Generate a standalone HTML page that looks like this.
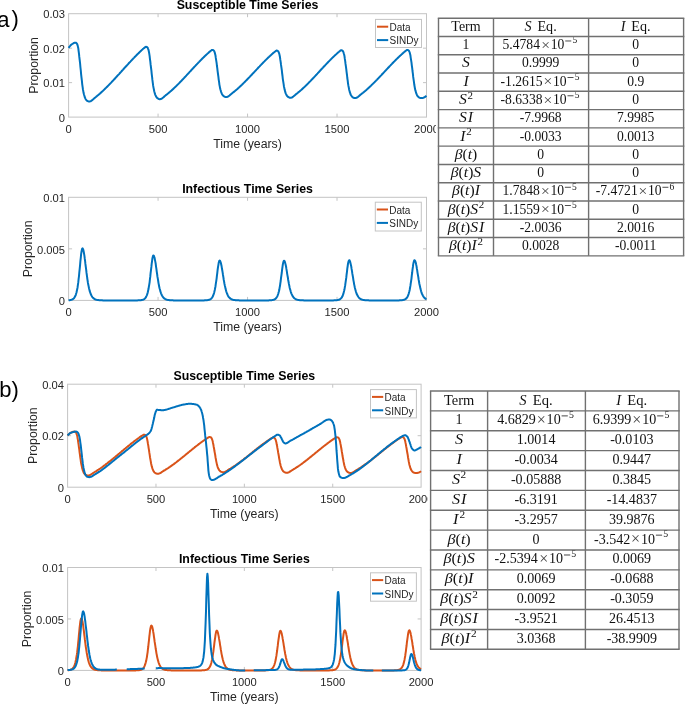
<!DOCTYPE html>
<html><head><meta charset="utf-8"><title>SINDy figure</title>
<style>
html,body{margin:0;padding:0;background:#fff;width:685px;height:705px;overflow:hidden}
svg{position:absolute;left:0;top:0;display:block;filter:blur(0.3px)}
text{font-family:"Liberation Sans",sans-serif;fill:#262626}
.tk{font-size:11.2px}
.lab{font-size:12.3px}
.ttl{font-size:12.35px;font-weight:bold;fill:#000}
.lg{font-size:10px}
.pl{font-size:22px;fill:#000}
.tb{font-family:"Liberation Serif",serif;fill:#111}
.tl{stroke:#707070;stroke-width:1.4}
</style></head><body>
<svg width="685" height="705" viewBox="0 0 685 705">
<rect x="68.60" y="13.70" width="357.90" height="103.40" fill="none" stroke="#c4c4c4" stroke-width="1"/>
<line x1="158.07" y1="117.10" x2="158.07" y2="113.60" stroke="#c4c4c4"/>
<line x1="158.07" y1="13.70" x2="158.07" y2="17.20" stroke="#c4c4c4"/>
<line x1="247.55" y1="117.10" x2="247.55" y2="113.60" stroke="#c4c4c4"/>
<line x1="247.55" y1="13.70" x2="247.55" y2="17.20" stroke="#c4c4c4"/>
<line x1="337.02" y1="117.10" x2="337.02" y2="113.60" stroke="#c4c4c4"/>
<line x1="337.02" y1="13.70" x2="337.02" y2="17.20" stroke="#c4c4c4"/>
<line x1="68.60" y1="82.63" x2="72.10" y2="82.63" stroke="#c4c4c4"/>
<line x1="426.50" y1="82.63" x2="423.00" y2="82.63" stroke="#c4c4c4"/>
<line x1="68.60" y1="48.17" x2="72.10" y2="48.17" stroke="#c4c4c4"/>
<line x1="426.50" y1="48.17" x2="423.00" y2="48.17" stroke="#c4c4c4"/>
<text x="68.60" y="132.70" class="tk" text-anchor="middle">0</text>
<text x="158.07" y="132.70" class="tk" text-anchor="middle">500</text>
<text x="247.55" y="132.70" class="tk" text-anchor="middle">1000</text>
<text x="337.02" y="132.70" class="tk" text-anchor="middle">1500</text>
<text x="426.50" y="132.70" class="tk" text-anchor="middle">2000</text>
<text x="65.00" y="121.80" class="tk" text-anchor="end">0</text>
<text x="65.00" y="87.33" class="tk" text-anchor="end">0.01</text>
<text x="65.00" y="52.87" class="tk" text-anchor="end">0.02</text>
<text x="65.00" y="18.40" class="tk" text-anchor="end">0.03</text>
<text x="247.55" y="9.40" class="ttl" text-anchor="middle">Susceptible Time Series</text>
<text x="247.55" y="147.90" class="lab" text-anchor="middle">Time (years)</text>
<text x="38.30" y="65.40" class="lab" text-anchor="middle" transform="rotate(-90 38.30 65.40)">Proportion</text>
<rect x="68.60" y="197.30" width="357.90" height="103.10" fill="none" stroke="#c4c4c4" stroke-width="1"/>
<line x1="158.07" y1="300.40" x2="158.07" y2="296.90" stroke="#c4c4c4"/>
<line x1="158.07" y1="197.30" x2="158.07" y2="200.80" stroke="#c4c4c4"/>
<line x1="247.55" y1="300.40" x2="247.55" y2="296.90" stroke="#c4c4c4"/>
<line x1="247.55" y1="197.30" x2="247.55" y2="200.80" stroke="#c4c4c4"/>
<line x1="337.02" y1="300.40" x2="337.02" y2="296.90" stroke="#c4c4c4"/>
<line x1="337.02" y1="197.30" x2="337.02" y2="200.80" stroke="#c4c4c4"/>
<line x1="68.60" y1="248.85" x2="72.10" y2="248.85" stroke="#c4c4c4"/>
<line x1="426.50" y1="248.85" x2="423.00" y2="248.85" stroke="#c4c4c4"/>
<text x="68.60" y="316.00" class="tk" text-anchor="middle">0</text>
<text x="158.07" y="316.00" class="tk" text-anchor="middle">500</text>
<text x="247.55" y="316.00" class="tk" text-anchor="middle">1000</text>
<text x="337.02" y="316.00" class="tk" text-anchor="middle">1500</text>
<text x="426.50" y="316.00" class="tk" text-anchor="middle">2000</text>
<text x="65.00" y="305.10" class="tk" text-anchor="end">0</text>
<text x="65.00" y="253.55" class="tk" text-anchor="end">0.005</text>
<text x="65.00" y="202.00" class="tk" text-anchor="end">0.01</text>
<text x="247.55" y="193.00" class="ttl" text-anchor="middle">Infectious Time Series</text>
<text x="247.55" y="331.20" class="lab" text-anchor="middle">Time (years)</text>
<text x="32.00" y="248.85" class="lab" text-anchor="middle" transform="rotate(-90 32.00 248.85)">Proportion</text>
<rect x="67.60" y="384.20" width="353.50" height="103.00" fill="none" stroke="#c4c4c4" stroke-width="1"/>
<line x1="155.97" y1="487.20" x2="155.97" y2="483.70" stroke="#c4c4c4"/>
<line x1="155.97" y1="384.20" x2="155.97" y2="387.70" stroke="#c4c4c4"/>
<line x1="244.35" y1="487.20" x2="244.35" y2="483.70" stroke="#c4c4c4"/>
<line x1="244.35" y1="384.20" x2="244.35" y2="387.70" stroke="#c4c4c4"/>
<line x1="332.73" y1="487.20" x2="332.73" y2="483.70" stroke="#c4c4c4"/>
<line x1="332.73" y1="384.20" x2="332.73" y2="387.70" stroke="#c4c4c4"/>
<line x1="67.60" y1="435.70" x2="71.10" y2="435.70" stroke="#c4c4c4"/>
<line x1="421.10" y1="435.70" x2="417.60" y2="435.70" stroke="#c4c4c4"/>
<text x="67.60" y="502.80" class="tk" text-anchor="middle">0</text>
<text x="155.97" y="502.80" class="tk" text-anchor="middle">500</text>
<text x="244.35" y="502.80" class="tk" text-anchor="middle">1000</text>
<text x="332.73" y="502.80" class="tk" text-anchor="middle">1500</text>
<text x="421.10" y="502.80" class="tk" text-anchor="middle">2000</text>
<text x="64.00" y="491.90" class="tk" text-anchor="end">0</text>
<text x="64.00" y="440.40" class="tk" text-anchor="end">0.02</text>
<text x="64.00" y="388.90" class="tk" text-anchor="end">0.04</text>
<text x="244.35" y="379.90" class="ttl" text-anchor="middle">Susceptible Time Series</text>
<text x="244.35" y="518.00" class="lab" text-anchor="middle">Time (years)</text>
<text x="37.50" y="435.70" class="lab" text-anchor="middle" transform="rotate(-90 37.50 435.70)">Proportion</text>
<rect x="67.60" y="567.50" width="353.50" height="102.90" fill="none" stroke="#c4c4c4" stroke-width="1"/>
<line x1="155.97" y1="670.40" x2="155.97" y2="666.90" stroke="#c4c4c4"/>
<line x1="155.97" y1="567.50" x2="155.97" y2="571.00" stroke="#c4c4c4"/>
<line x1="244.35" y1="670.40" x2="244.35" y2="666.90" stroke="#c4c4c4"/>
<line x1="244.35" y1="567.50" x2="244.35" y2="571.00" stroke="#c4c4c4"/>
<line x1="332.73" y1="670.40" x2="332.73" y2="666.90" stroke="#c4c4c4"/>
<line x1="332.73" y1="567.50" x2="332.73" y2="571.00" stroke="#c4c4c4"/>
<line x1="67.60" y1="618.95" x2="71.10" y2="618.95" stroke="#c4c4c4"/>
<line x1="421.10" y1="618.95" x2="417.60" y2="618.95" stroke="#c4c4c4"/>
<text x="67.60" y="686.00" class="tk" text-anchor="middle">0</text>
<text x="155.97" y="686.00" class="tk" text-anchor="middle">500</text>
<text x="244.35" y="686.00" class="tk" text-anchor="middle">1000</text>
<text x="332.73" y="686.00" class="tk" text-anchor="middle">1500</text>
<text x="421.10" y="686.00" class="tk" text-anchor="middle">2000</text>
<text x="64.00" y="675.10" class="tk" text-anchor="end">0</text>
<text x="64.00" y="623.65" class="tk" text-anchor="end">0.005</text>
<text x="64.00" y="572.20" class="tk" text-anchor="end">0.01</text>
<text x="244.35" y="563.20" class="ttl" text-anchor="middle">Infectious Time Series</text>
<text x="244.35" y="701.20" class="lab" text-anchor="middle">Time (years)</text>
<text x="31.00" y="618.95" class="lab" text-anchor="middle" transform="rotate(-90 31.00 618.95)">Proportion</text>
<g>
<path d="M68.60 47.82L69.0 47.3L69.3 46.9L69.7 46.4L70.0 46.0L70.4 45.6L70.7 45.2L71.1 44.9L71.5 44.5L71.8 44.3L72.2 44.0L72.5 43.8L72.9 43.6L73.3 43.4L73.6 43.2L74.0 43.0L74.3 42.9L74.7 42.7L75.0 42.7L75.4 42.7L75.8 42.7L76.1 42.9L76.5 43.2L76.8 43.5L77.2 44.2L77.6 45.3L77.9 46.6L78.3 48.3L78.6 50.8L79.0 53.8L79.3 56.9L79.7 60.1L80.1 63.5L80.4 67.0L80.8 70.5L81.1 74.1L81.5 77.7L81.9 80.9L82.2 84.1L82.6 86.9L82.9 89.2L83.3 91.3L83.6 93.1L84.0 94.6L84.4 95.8L84.7 97.0L85.1 97.9L85.4 98.7L85.8 99.3L86.2 99.8L86.5 100.3L86.9 100.6L87.2 100.8L87.6 101.0L87.9 101.2L88.3 101.4L88.7 101.5L89.0 101.6L89.4 101.6L89.7 101.5L90.1 101.4L90.5 101.3L90.8 101.1L91.2 100.9L91.5 100.7L91.9 100.4L92.2 100.1L92.6 99.8L93.0 99.5L93.3 99.2L93.7 98.8L94.0 98.5L94.4 98.2L94.8 97.9L95.1 97.6L95.5 97.3L95.8 97.0L96.2 96.7L96.5 96.4L96.9 96.1L97.3 95.8L97.6 95.5L98.0 95.2L98.3 94.9L98.7 94.6L99.1 94.3L99.4 94.0L99.8 93.7L100.1 93.4L100.5 93.1L100.8 92.7L101.2 92.4L101.6 92.1L101.9 91.8L102.3 91.4L102.6 91.1L103.0 90.8L103.4 90.4L103.7 90.1L104.1 89.7L104.4 89.4L104.8 89.0L105.1 88.7L105.5 88.3L105.9 88.0L106.2 87.6L106.6 87.3L106.9 86.9L107.3 86.6L107.7 86.2L108.0 85.8L108.4 85.5L108.7 85.1L109.1 84.7L109.4 84.4L109.8 84.0L110.2 83.6L110.5 83.3L110.9 82.9L111.2 82.5L111.6 82.1L111.9 81.7L112.3 81.4L112.7 81.0L113.0 80.6L113.4 80.2L113.7 79.8L114.1 79.4L114.5 79.1L114.8 78.7L115.2 78.3L115.5 77.9L115.9 77.5L116.2 77.1L116.6 76.7L117.0 76.3L117.3 75.9L117.7 75.5L118.0 75.1L118.4 74.8L118.8 74.4L119.1 74.0L119.5 73.6L119.8 73.2L120.2 72.8L120.5 72.4L120.9 72.0L121.3 71.6L121.6 71.2L122.0 70.8L122.3 70.4L122.7 70.0L123.1 69.6L123.4 69.2L123.8 68.8L124.1 68.4L124.5 68.0L124.8 67.6L125.2 67.2L125.6 66.8L125.9 66.4L126.3 66.1L126.6 65.7L127.0 65.3L127.4 64.9L127.7 64.5L128.1 64.1L128.4 63.7L128.8 63.3L129.1 62.9L129.5 62.5L129.9 62.2L130.2 61.8L130.6 61.4L130.9 61.0L131.3 60.6L131.7 60.2L132.0 59.9L132.4 59.5L132.7 59.1L133.1 58.7L133.4 58.3L133.8 58.0L134.2 57.6L134.5 57.2L134.9 56.9L135.2 56.5L135.6 56.1L136.0 55.8L136.3 55.4L136.7 55.0L137.0 54.7L137.4 54.3L137.7 54.0L138.1 53.6L138.5 53.3L138.8 52.9L139.2 52.6L139.5 52.2L139.9 51.9L140.3 51.5L140.6 51.2L141.0 50.8L141.3 50.5L141.7 50.2L142.0 49.8L142.4 49.5L142.8 49.1L143.1 48.8L143.5 48.5L143.8 48.2L144.2 48.0L144.6 47.7L144.9 47.4L145.3 47.1L145.6 46.9L146.0 46.8L146.3 46.8L146.7 47.0L147.1 47.2L147.4 47.5L147.8 47.9L148.1 48.8L148.5 49.9L148.8 51.3L149.2 53.3L149.6 55.9L149.9 58.6L150.3 61.4L150.6 64.4L151.0 67.5L151.4 70.6L151.7 73.8L152.1 77.0L152.4 79.9L152.8 82.8L153.1 85.4L153.5 87.6L153.9 89.5L154.2 91.2L154.6 92.6L154.9 93.7L155.3 94.8L155.7 95.7L156.0 96.4L156.4 97.0L156.7 97.5L157.1 97.9L157.4 98.2L157.8 98.4L158.2 98.6L158.5 98.8L158.9 99.0L159.2 99.1L159.6 99.2L160.0 99.2L160.3 99.1L160.7 99.1L161.0 98.9L161.4 98.8L161.7 98.6L162.1 98.3L162.5 98.1L162.8 97.8L163.2 97.5L163.5 97.2L163.9 96.9L164.3 96.6L164.6 96.3L165.0 95.9L165.3 95.6L165.7 95.3L166.0 95.0L166.4 94.8L166.8 94.5L167.1 94.2L167.5 93.9L167.8 93.6L168.2 93.3L168.6 93.0L168.9 92.7L169.3 92.4L169.6 92.1L170.0 91.8L170.3 91.5L170.7 91.2L171.1 90.9L171.4 90.6L171.8 90.3L172.1 89.9L172.5 89.6L172.9 89.3L173.2 88.9L173.6 88.6L173.9 88.3L174.3 87.9L174.6 87.6L175.0 87.2L175.4 86.9L175.7 86.6L176.1 86.2L176.4 85.9L176.8 85.5L177.2 85.1L177.5 84.8L177.9 84.4L178.2 84.1L178.6 83.7L178.9 83.3L179.3 83.0L179.7 82.6L180.0 82.2L180.4 81.9L180.7 81.5L181.1 81.1L181.5 80.8L181.8 80.4L182.2 80.0L182.5 79.6L182.9 79.3L183.2 78.9L183.6 78.5L184.0 78.1L184.3 77.7L184.7 77.3L185.0 77.0L185.4 76.6L185.8 76.2L186.1 75.8L186.5 75.4L186.8 75.0L187.2 74.6L187.5 74.3L187.9 73.9L188.3 73.5L188.6 73.1L189.0 72.7L189.3 72.3L189.7 71.9L190.0 71.5L190.4 71.2L190.8 70.8L191.1 70.4L191.5 70.0L191.8 69.6L192.2 69.2L192.6 68.8L192.9 68.4L193.3 68.0L193.6 67.7L194.0 67.3L194.3 66.9L194.7 66.5L195.1 66.1L195.4 65.7L195.8 65.4L196.1 65.0L196.5 64.6L196.9 64.2L197.2 63.8L197.6 63.5L197.9 63.1L198.3 62.7L198.6 62.3L199.0 62.0L199.4 61.6L199.7 61.2L200.1 60.9L200.4 60.5L200.8 60.1L201.2 59.8L201.5 59.4L201.9 59.0L202.2 58.7L202.6 58.3L202.9 58.0L203.3 57.6L203.7 57.3L204.0 56.9L204.4 56.6L204.7 56.2L205.1 55.9L205.5 55.5L205.8 55.2L206.2 54.9L206.5 54.5L206.9 54.2L207.2 53.9L207.6 53.5L208.0 53.2L208.3 52.9L208.7 52.6L209.0 52.2L209.4 51.9L209.8 51.6L210.1 51.4L210.5 51.1L210.8 50.8L211.2 50.5L211.5 50.2L211.9 50.0L212.3 49.9L212.6 49.9L213.0 50.0L213.3 50.2L213.7 50.5L214.1 50.9L214.4 51.6L214.8 52.7L215.1 53.9L215.5 55.6L215.8 57.9L216.2 60.4L216.6 62.9L216.9 65.5L217.3 68.3L217.6 71.1L218.0 74.0L218.4 76.9L218.7 79.6L219.1 82.2L219.4 84.6L219.8 86.6L220.1 88.3L220.5 89.8L220.9 91.1L221.2 92.1L221.6 93.1L221.9 93.9L222.3 94.6L222.7 95.1L223.0 95.5L223.4 95.9L223.7 96.2L224.1 96.4L224.4 96.6L224.8 96.8L225.2 96.9L225.5 97.0L225.9 97.1L226.2 97.1L226.6 97.1L227.0 97.0L227.3 96.9L227.7 96.7L228.0 96.5L228.4 96.3L228.7 96.1L229.1 95.8L229.5 95.5L229.8 95.2L230.2 94.9L230.5 94.6L230.9 94.3L231.2 94.0L231.6 93.6L232.0 93.3L232.3 93.1L232.7 92.8L233.0 92.5L233.4 92.2L233.8 92.0L234.1 91.7L234.5 91.4L234.8 91.1L235.2 90.8L235.5 90.5L235.9 90.2L236.3 89.9L236.6 89.6L237.0 89.3L237.3 89.0L237.7 88.7L238.1 88.3L238.4 88.0L238.8 87.7L239.1 87.4L239.5 87.0L239.8 86.7L240.2 86.4L240.6 86.0L240.9 85.7L241.3 85.4L241.6 85.0L242.0 84.7L242.4 84.3L242.7 84.0L243.1 83.6L243.4 83.3L243.8 82.9L244.1 82.6L244.5 82.2L244.9 81.8L245.2 81.5L245.6 81.1L245.9 80.8L246.3 80.4L246.7 80.0L247.0 79.7L247.4 79.3L247.7 78.9L248.1 78.5L248.4 78.2L248.8 77.8L249.2 77.4L249.5 77.0L249.9 76.7L250.2 76.3L250.6 75.9L251.0 75.5L251.3 75.2L251.7 74.8L252.0 74.4L252.4 74.0L252.7 73.6L253.1 73.2L253.5 72.9L253.8 72.5L254.2 72.1L254.5 71.7L254.9 71.3L255.3 71.0L255.6 70.6L256.0 70.2L256.3 69.8L256.7 69.4L257.0 69.0L257.4 68.7L257.8 68.3L258.1 67.9L258.5 67.5L258.8 67.1L259.2 66.8L259.6 66.4L259.9 66.0L260.3 65.6L260.6 65.3L261.0 64.9L261.3 64.5L261.7 64.1L262.1 63.8L262.4 63.4L262.8 63.0L263.1 62.7L263.5 62.3L263.9 61.9L264.2 61.6L264.6 61.2L264.9 60.8L265.3 60.5L265.6 60.1L266.0 59.8L266.4 59.4L266.7 59.1L267.1 58.7L267.4 58.4L267.8 58.0L268.1 57.7L268.5 57.3L268.9 57.0L269.2 56.7L269.6 56.3L269.9 56.0L270.3 55.7L270.7 55.3L271.0 55.0L271.4 54.7L271.7 54.4L272.1 54.0L272.4 53.7L272.8 53.4L273.2 53.1L273.5 52.8L273.9 52.5L274.2 52.2L274.6 51.9L275.0 51.7L275.3 51.3L275.7 51.1L276.0 50.8L276.4 50.6L276.7 50.6L277.1 50.6L277.5 50.8L277.8 51.0L278.2 51.3L278.5 51.9L278.9 52.7L279.3 53.9L279.6 55.2L280.0 57.3L280.3 59.7L280.7 62.1L281.0 64.7L281.4 67.4L281.8 70.2L282.1 73.0L282.5 76.0L282.8 78.8L283.2 81.4L283.6 83.9L283.9 86.2L284.3 88.0L284.6 89.6L285.0 91.1L285.3 92.2L285.7 93.3L286.1 94.2L286.4 94.9L286.8 95.5L287.1 96.0L287.5 96.4L287.9 96.7L288.2 97.0L288.6 97.2L288.9 97.4L289.3 97.5L289.6 97.7L290.0 97.7L290.4 97.8L290.7 97.8L291.1 97.7L291.4 97.6L291.8 97.5L292.2 97.3L292.5 97.1L292.9 96.9L293.2 96.6L293.6 96.3L293.9 96.0L294.3 95.7L294.7 95.4L295.0 95.1L295.4 94.8L295.7 94.5L296.1 94.1L296.5 93.8L296.8 93.6L297.2 93.3L297.5 93.0L297.9 92.7L298.2 92.4L298.6 92.1L299.0 91.9L299.3 91.6L299.7 91.3L300.0 91.0L300.4 90.6L300.8 90.3L301.1 90.0L301.5 89.7L301.8 89.4L302.2 89.1L302.5 88.7L302.9 88.4L303.3 88.1L303.6 87.8L304.0 87.4L304.3 87.1L304.7 86.7L305.1 86.4L305.4 86.1L305.8 85.7L306.1 85.4L306.5 85.0L306.8 84.7L307.2 84.3L307.6 84.0L307.9 83.6L308.3 83.2L308.6 82.9L309.0 82.5L309.3 82.1L309.7 81.8L310.1 81.4L310.4 81.0L310.8 80.7L311.1 80.3L311.5 79.9L311.9 79.5L312.2 79.2L312.6 78.8L312.9 78.4L313.3 78.0L313.6 77.7L314.0 77.3L314.4 76.9L314.7 76.5L315.1 76.1L315.4 75.7L315.8 75.4L316.2 75.0L316.5 74.6L316.9 74.2L317.2 73.8L317.6 73.4L317.9 73.0L318.3 72.6L318.7 72.3L319.0 71.9L319.4 71.5L319.7 71.1L320.1 70.7L320.5 70.3L320.8 69.9L321.2 69.5L321.5 69.1L321.9 68.8L322.2 68.4L322.6 68.0L323.0 67.6L323.3 67.2L323.7 66.8L324.0 66.4L324.4 66.1L324.8 65.7L325.1 65.3L325.5 64.9L325.8 64.5L326.2 64.2L326.5 63.8L326.9 63.4L327.3 63.0L327.6 62.7L328.0 62.3L328.3 61.9L328.7 61.5L329.1 61.2L329.4 60.8L329.8 60.4L330.1 60.1L330.5 59.7L330.8 59.3L331.2 59.0L331.6 58.6L331.9 58.3L332.3 57.9L332.6 57.6L333.0 57.2L333.4 56.9L333.7 56.5L334.1 56.2L334.4 55.8L334.8 55.5L335.1 55.2L335.5 54.8L335.9 54.5L336.2 54.2L336.6 53.9L336.9 53.5L337.3 53.2L337.7 52.9L338.0 52.6L338.4 52.2L338.7 52.0L339.1 51.7L339.4 51.4L339.8 51.1L340.2 50.8L340.5 50.5L340.9 50.3L341.2 50.2L341.6 50.3L342.0 50.4L342.3 50.6L342.7 50.9L343.0 51.3L343.4 52.1L343.7 53.2L344.1 54.4L344.5 56.3L344.8 58.7L345.2 61.2L345.5 63.7L345.9 66.4L346.3 69.3L346.6 72.1L347.0 75.0L347.3 78.0L347.7 80.7L348.0 83.3L348.4 85.7L348.8 87.6L349.1 89.4L349.5 90.9L349.8 92.2L350.2 93.2L350.5 94.2L350.9 95.0L351.3 95.6L351.6 96.1L352.0 96.6L352.3 97.0L352.7 97.3L353.1 97.5L353.4 97.7L353.8 97.8L354.1 98.0L354.5 98.1L354.8 98.1L355.2 98.1L355.6 98.1L355.9 98.0L356.3 97.9L356.6 97.7L357.0 97.5L357.4 97.3L357.7 97.1L358.1 96.8L358.4 96.5L358.8 96.2L359.1 95.9L359.5 95.6L359.9 95.3L360.2 94.9L360.6 94.6L360.9 94.3L361.3 94.1L361.7 93.8L362.0 93.5L362.4 93.2L362.7 93.0L363.1 92.7L363.4 92.4L363.8 92.1L364.2 91.8L364.5 91.5L364.9 91.2L365.2 90.9L365.6 90.6L366.0 90.3L366.3 90.0L366.7 89.7L367.0 89.3L367.4 89.0L367.7 88.7L368.1 88.4L368.5 88.0L368.8 87.7L369.2 87.4L369.5 87.0L369.9 86.7L370.3 86.4L370.6 86.0L371.0 85.7L371.3 85.3L371.7 85.0L372.0 84.6L372.4 84.3L372.8 83.9L373.1 83.6L373.5 83.2L373.8 82.9L374.2 82.5L374.6 82.2L374.9 81.8L375.3 81.4L375.6 81.1L376.0 80.7L376.3 80.3L376.7 80.0L377.1 79.6L377.4 79.2L377.8 78.9L378.1 78.5L378.5 78.1L378.9 77.7L379.2 77.4L379.6 77.0L379.9 76.6L380.3 76.2L380.6 75.8L381.0 75.5L381.4 75.1L381.7 74.7L382.1 74.3L382.4 73.9L382.8 73.6L383.2 73.2L383.5 72.8L383.9 72.4L384.2 72.0L384.6 71.6L384.9 71.3L385.3 70.9L385.7 70.5L386.0 70.1L386.4 69.7L386.7 69.3L387.1 69.0L387.4 68.6L387.8 68.2L388.2 67.8L388.5 67.4L388.9 67.1L389.2 66.7L389.6 66.3L390.0 65.9L390.3 65.5L390.7 65.2L391.0 64.8L391.4 64.4L391.7 64.0L392.1 63.7L392.5 63.3L392.8 62.9L393.2 62.6L393.5 62.2L393.9 61.8L394.3 61.5L394.6 61.1L395.0 60.7L395.3 60.4L395.7 60.0L396.0 59.7L396.4 59.3L396.8 59.0L397.1 58.6L397.5 58.3L397.8 57.9L398.2 57.6L398.6 57.2L398.9 56.9L399.3 56.5L399.6 56.2L400.0 55.9L400.3 55.5L400.7 55.2L401.1 54.9L401.4 54.5L401.8 54.2L402.1 53.9L402.5 53.6L402.9 53.2L403.2 52.9L403.6 52.6L403.9 52.3L404.3 52.0L404.6 51.7L405.0 51.4L405.4 51.1L405.7 50.9L406.1 50.5L406.4 50.3L406.8 50.0L407.2 49.9L407.5 49.9L407.9 50.0L408.2 50.2L408.6 50.5L408.9 50.8L409.3 51.5L409.7 52.5L410.0 53.7L410.4 55.3L410.7 57.6L411.1 60.1L411.5 62.6L411.8 65.3L412.2 68.2L412.5 71.0L412.9 73.9L413.2 76.9L413.6 79.7L414.0 82.3L414.3 84.8L414.7 87.0L415.0 88.8L415.4 90.4L415.8 91.7L416.1 92.9L416.5 93.9L416.8 94.7L417.2 95.4L417.5 96.0L417.9 96.4L418.3 96.8L418.6 97.2L419.0 97.4L419.3 97.6L419.7 97.8L420.1 97.9L420.4 98.0L420.8 98.1L421.1 98.1L421.5 98.1L421.8 98.1L422.2 98.1L422.6 98.0L422.9 97.9L423.3 97.8L423.6 97.7L424.0 97.5L424.4 97.4L424.7 97.2L425.1 96.9L425.4 96.7L425.8 96.4L426.1 96.1L426.5 95.7" fill="none" stroke="#0072bd" stroke-width="2.00" stroke-linejoin="round"/>
<path d="M68.60 300.27L69.0 300.2L69.3 300.2L69.7 300.2L70.0 300.1L70.4 300.1L70.7 300.0L71.1 299.9L71.5 299.8L71.8 299.7L72.2 299.5L72.5 299.4L72.9 299.1L73.3 298.9L73.6 298.6L74.0 298.2L74.3 297.7L74.7 297.2L75.0 296.5L75.4 295.8L75.8 294.8L76.1 293.7L76.5 292.5L76.8 291.0L77.2 289.2L77.6 287.2L77.9 284.8L78.3 282.2L78.6 279.2L79.0 276.0L79.3 272.5L79.7 268.8L80.1 264.9L80.4 261.2L80.8 257.6L81.1 254.3L81.5 251.7L81.9 249.7L82.2 248.6L82.6 248.4L82.9 248.8L83.3 249.8L83.6 251.3L84.0 253.3L84.4 255.6L84.7 258.2L85.1 261.0L85.4 263.9L85.8 266.9L86.2 269.8L86.5 272.7L86.9 275.5L87.2 278.0L87.6 280.5L87.9 282.7L88.3 284.7L88.7 286.6L89.0 288.2L89.4 289.7L89.7 291.1L90.1 292.2L90.5 293.3L90.8 294.2L91.2 295.0L91.5 295.7L91.9 296.3L92.2 296.9L92.6 297.4L93.0 297.8L93.3 298.1L93.7 298.4L94.0 298.7L94.4 298.9L94.8 299.1L95.1 299.3L95.5 299.5L95.8 299.6L96.2 299.7L96.5 299.8L96.9 299.9L97.3 299.9L97.6 300.0L98.0 300.1L98.3 300.1L98.7 300.1L99.1 300.2L99.4 300.2L99.8 300.2L100.1 300.3L100.5 300.3L100.8 300.3L101.2 300.3L101.6 300.3L101.9 300.3L102.3 300.3L102.6 300.4L103.0 300.4L103.4 300.4L103.7 300.4L104.1 300.4L104.4 300.4L104.8 300.4L105.1 300.4L105.5 300.4L105.9 300.4L106.2 300.4L106.6 300.4L106.9 300.4L107.3 300.4L107.7 300.4L108.0 300.4L108.4 300.4L108.7 300.4L109.1 300.4L109.4 300.4L109.8 300.4L110.2 300.4L110.5 300.4L110.9 300.4L111.2 300.4L111.6 300.4L111.9 300.4L112.3 300.4L112.7 300.4L113.0 300.4L113.4 300.4L113.7 300.4L114.1 300.4L114.5 300.4L114.8 300.4L115.2 300.4L115.5 300.4L115.9 300.4L116.2 300.4L116.6 300.4L117.0 300.4L117.3 300.4L117.7 300.4L118.0 300.4L118.4 300.4L118.8 300.4L119.1 300.4L119.5 300.4L119.8 300.4L120.2 300.4L120.5 300.4L120.9 300.4L121.3 300.4L121.6 300.4L122.0 300.4L122.3 300.4L122.7 300.4L123.1 300.4L123.4 300.4L123.8 300.4L124.1 300.4L124.5 300.4L124.8 300.4L125.2 300.4L125.6 300.4L125.9 300.4L126.3 300.4L126.6 300.4L127.0 300.4L127.4 300.4L127.7 300.4L128.1 300.4L128.4 300.4L128.8 300.4L129.1 300.4L129.5 300.4L129.9 300.4L130.2 300.4L130.6 300.4L130.9 300.4L131.3 300.4L131.7 300.4L132.0 300.4L132.4 300.4L132.7 300.4L133.1 300.4L133.4 300.4L133.8 300.4L134.2 300.4L134.5 300.4L134.9 300.4L135.2 300.4L135.6 300.4L136.0 300.4L136.3 300.4L136.7 300.4L137.0 300.4L137.4 300.4L137.7 300.4L138.1 300.3L138.5 300.3L138.8 300.3L139.2 300.3L139.5 300.3L139.9 300.3L140.3 300.2L140.6 300.2L141.0 300.2L141.3 300.1L141.7 300.1L142.0 300.0L142.4 299.9L142.8 299.8L143.1 299.7L143.5 299.5L143.8 299.3L144.2 299.1L144.6 298.8L144.9 298.5L145.3 298.1L145.6 297.7L146.0 297.1L146.3 296.4L146.7 295.6L147.1 294.7L147.4 293.6L147.8 292.3L148.1 290.8L148.5 289.1L148.8 287.1L149.2 284.8L149.6 282.3L149.9 279.5L150.3 276.4L150.6 273.2L151.0 270.0L151.4 266.7L151.7 263.6L152.1 260.8L152.4 258.4L152.8 256.7L153.1 255.7L153.5 255.5L153.9 255.8L154.2 256.7L154.6 257.9L154.9 259.6L155.3 261.6L155.7 263.8L156.0 266.3L156.4 268.8L156.7 271.3L157.1 273.9L157.4 276.4L157.8 278.7L158.2 281.0L158.5 283.1L158.9 285.0L159.2 286.8L159.6 288.4L160.0 289.8L160.3 291.1L160.7 292.3L161.0 293.3L161.4 294.2L161.7 295.0L162.1 295.7L162.5 296.3L162.8 296.9L163.2 297.3L163.5 297.8L163.9 298.1L164.3 298.4L164.6 298.7L165.0 298.9L165.3 299.1L165.7 299.3L166.0 299.4L166.4 299.6L166.8 299.7L167.1 299.8L167.5 299.9L167.8 299.9L168.2 300.0L168.6 300.1L168.9 300.1L169.3 300.1L169.6 300.2L170.0 300.2L170.3 300.2L170.7 300.3L171.1 300.3L171.4 300.3L171.8 300.3L172.1 300.3L172.5 300.3L172.9 300.3L173.2 300.4L173.6 300.4L173.9 300.4L174.3 300.4L174.6 300.4L175.0 300.4L175.4 300.4L175.7 300.4L176.1 300.4L176.4 300.4L176.8 300.4L177.2 300.4L177.5 300.4L177.9 300.4L178.2 300.4L178.6 300.4L178.9 300.4L179.3 300.4L179.7 300.4L180.0 300.4L180.4 300.4L180.7 300.4L181.1 300.4L181.5 300.4L181.8 300.4L182.2 300.4L182.5 300.4L182.9 300.4L183.2 300.4L183.6 300.4L184.0 300.4L184.3 300.4L184.7 300.4L185.0 300.4L185.4 300.4L185.8 300.4L186.1 300.4L186.5 300.4L186.8 300.4L187.2 300.4L187.5 300.4L187.9 300.4L188.3 300.4L188.6 300.4L189.0 300.4L189.3 300.4L189.7 300.4L190.0 300.4L190.4 300.4L190.8 300.4L191.1 300.4L191.5 300.4L191.8 300.4L192.2 300.4L192.6 300.4L192.9 300.4L193.3 300.4L193.6 300.4L194.0 300.4L194.3 300.4L194.7 300.4L195.1 300.4L195.4 300.4L195.8 300.4L196.1 300.4L196.5 300.4L196.9 300.4L197.2 300.4L197.6 300.4L197.9 300.4L198.3 300.4L198.6 300.4L199.0 300.4L199.4 300.4L199.7 300.4L200.1 300.4L200.4 300.4L200.8 300.4L201.2 300.4L201.5 300.4L201.9 300.4L202.2 300.4L202.6 300.4L202.9 300.4L203.3 300.4L203.7 300.4L204.0 300.4L204.4 300.4L204.7 300.3L205.1 300.3L205.5 300.3L205.8 300.3L206.2 300.3L206.5 300.3L206.9 300.2L207.2 300.2L207.6 300.1L208.0 300.1L208.3 300.0L208.7 299.9L209.0 299.8L209.4 299.7L209.8 299.6L210.1 299.4L210.5 299.2L210.8 299.0L211.2 298.7L211.5 298.3L211.9 297.9L212.3 297.4L212.6 296.8L213.0 296.0L213.3 295.2L213.7 294.2L214.1 293.0L214.4 291.6L214.8 290.0L215.1 288.2L215.5 286.2L215.8 283.9L216.2 281.3L216.6 278.6L216.9 275.8L217.3 272.8L217.6 270.0L218.0 267.2L218.4 264.8L218.7 262.8L219.1 261.4L219.4 260.6L219.8 260.5L220.1 260.9L220.5 261.8L220.9 263.0L221.2 264.5L221.6 266.3L221.9 268.3L222.3 270.5L222.7 272.8L223.0 275.0L223.4 277.3L223.7 279.5L224.1 281.6L224.4 283.5L224.8 285.4L225.2 287.0L225.5 288.6L225.9 290.0L226.2 291.2L226.6 292.4L227.0 293.4L227.3 294.3L227.7 295.1L228.0 295.7L228.4 296.4L228.7 296.9L229.1 297.4L229.5 297.8L229.8 298.1L230.2 298.4L230.5 298.7L230.9 298.9L231.2 299.1L231.6 299.3L232.0 299.4L232.3 299.6L232.7 299.7L233.0 299.8L233.4 299.9L233.8 299.9L234.1 300.0L234.5 300.1L234.8 300.1L235.2 300.1L235.5 300.2L235.9 300.2L236.3 300.2L236.6 300.3L237.0 300.3L237.3 300.3L237.7 300.3L238.1 300.3L238.4 300.3L238.8 300.3L239.1 300.4L239.5 300.4L239.8 300.4L240.2 300.4L240.6 300.4L240.9 300.4L241.3 300.4L241.6 300.4L242.0 300.4L242.4 300.4L242.7 300.4L243.1 300.4L243.4 300.4L243.8 300.4L244.1 300.4L244.5 300.4L244.9 300.4L245.2 300.4L245.6 300.4L245.9 300.4L246.3 300.4L246.7 300.4L247.0 300.4L247.4 300.4L247.7 300.4L248.1 300.4L248.4 300.4L248.8 300.4L249.2 300.4L249.5 300.4L249.9 300.4L250.2 300.4L250.6 300.4L251.0 300.4L251.3 300.4L251.7 300.4L252.0 300.4L252.4 300.4L252.7 300.4L253.1 300.4L253.5 300.4L253.8 300.4L254.2 300.4L254.5 300.4L254.9 300.4L255.3 300.4L255.6 300.4L256.0 300.4L256.3 300.4L256.7 300.4L257.0 300.4L257.4 300.4L257.8 300.4L258.1 300.4L258.5 300.4L258.8 300.4L259.2 300.4L259.6 300.4L259.9 300.4L260.3 300.4L260.6 300.4L261.0 300.4L261.3 300.4L261.7 300.4L262.1 300.4L262.4 300.4L262.8 300.4L263.1 300.4L263.5 300.4L263.9 300.4L264.2 300.4L264.6 300.4L264.9 300.4L265.3 300.4L265.6 300.4L266.0 300.4L266.4 300.4L266.7 300.4L267.1 300.4L267.4 300.4L267.8 300.4L268.1 300.4L268.5 300.4L268.9 300.4L269.2 300.3L269.6 300.3L269.9 300.3L270.3 300.3L270.7 300.3L271.0 300.2L271.4 300.2L271.7 300.2L272.1 300.1L272.4 300.1L272.8 300.0L273.2 299.9L273.5 299.8L273.9 299.7L274.2 299.6L274.6 299.4L275.0 299.2L275.3 298.9L275.7 298.6L276.0 298.2L276.4 297.8L276.7 297.3L277.1 296.7L277.5 295.9L277.8 295.0L278.2 294.0L278.5 292.8L278.9 291.4L279.3 289.8L279.6 287.9L280.0 285.8L280.3 283.5L280.7 281.0L281.0 278.2L281.4 275.4L281.8 272.5L282.1 269.6L282.5 266.9L282.8 264.6L283.2 262.7L283.6 261.4L283.9 260.8L284.3 260.8L284.6 261.3L285.0 262.1L285.3 263.4L285.7 265.0L286.1 266.8L286.4 268.9L286.8 271.1L287.1 273.3L287.5 275.6L287.9 277.8L288.2 280.0L288.6 282.0L288.9 283.9L289.3 285.7L289.6 287.4L290.0 288.9L290.4 290.3L290.7 291.5L291.1 292.6L291.4 293.6L291.8 294.4L292.2 295.2L292.5 295.9L292.9 296.5L293.2 297.0L293.6 297.4L293.9 297.8L294.3 298.2L294.7 298.5L295.0 298.7L295.4 299.0L295.7 299.2L296.1 299.3L296.5 299.5L296.8 299.6L297.2 299.7L297.5 299.8L297.9 299.9L298.2 300.0L298.6 300.0L299.0 300.1L299.3 300.1L299.7 300.2L300.0 300.2L300.4 300.2L300.8 300.2L301.1 300.3L301.5 300.3L301.8 300.3L302.2 300.3L302.5 300.3L302.9 300.3L303.3 300.3L303.6 300.4L304.0 300.4L304.3 300.4L304.7 300.4L305.1 300.4L305.4 300.4L305.8 300.4L306.1 300.4L306.5 300.4L306.8 300.4L307.2 300.4L307.6 300.4L307.9 300.4L308.3 300.4L308.6 300.4L309.0 300.4L309.3 300.4L309.7 300.4L310.1 300.4L310.4 300.4L310.8 300.4L311.1 300.4L311.5 300.4L311.9 300.4L312.2 300.4L312.6 300.4L312.9 300.4L313.3 300.4L313.6 300.4L314.0 300.4L314.4 300.4L314.7 300.4L315.1 300.4L315.4 300.4L315.8 300.4L316.2 300.4L316.5 300.4L316.9 300.4L317.2 300.4L317.6 300.4L317.9 300.4L318.3 300.4L318.7 300.4L319.0 300.4L319.4 300.4L319.7 300.4L320.1 300.4L320.5 300.4L320.8 300.4L321.2 300.4L321.5 300.4L321.9 300.4L322.2 300.4L322.6 300.4L323.0 300.4L323.3 300.4L323.7 300.4L324.0 300.4L324.4 300.4L324.8 300.4L325.1 300.4L325.5 300.4L325.8 300.4L326.2 300.4L326.5 300.4L326.9 300.4L327.3 300.4L327.6 300.4L328.0 300.4L328.3 300.4L328.7 300.4L329.1 300.4L329.4 300.4L329.8 300.4L330.1 300.4L330.5 300.4L330.8 300.4L331.2 300.4L331.6 300.4L331.9 300.4L332.3 300.4L332.6 300.4L333.0 300.4L333.4 300.4L333.7 300.4L334.1 300.3L334.4 300.3L334.8 300.3L335.1 300.3L335.5 300.3L335.9 300.3L336.2 300.2L336.6 300.2L336.9 300.2L337.3 300.1L337.7 300.1L338.0 300.0L338.4 299.9L338.7 299.8L339.1 299.7L339.4 299.5L339.8 299.3L340.2 299.1L340.5 298.8L340.9 298.5L341.2 298.1L341.6 297.7L342.0 297.1L342.3 296.5L342.7 295.7L343.0 294.8L343.4 293.7L343.7 292.5L344.1 291.0L344.5 289.3L344.8 287.4L345.2 285.2L345.5 282.8L345.9 280.2L346.3 277.4L346.6 274.5L347.0 271.6L347.3 268.7L347.7 266.0L348.0 263.7L348.4 261.9L348.8 260.7L349.1 260.2L349.5 260.3L349.8 260.9L350.2 261.9L350.5 263.2L350.9 264.9L351.3 266.8L351.6 268.9L352.0 271.1L352.3 273.4L352.7 275.7L353.1 277.9L353.4 280.1L353.8 282.1L354.1 284.1L354.5 285.9L354.8 287.5L355.2 289.0L355.6 290.4L355.9 291.6L356.3 292.7L356.6 293.7L357.0 294.5L357.4 295.3L357.7 295.9L358.1 296.5L358.4 297.0L358.8 297.5L359.1 297.9L359.5 298.2L359.9 298.5L360.2 298.8L360.6 299.0L360.9 299.2L361.3 299.3L361.7 299.5L362.0 299.6L362.4 299.7L362.7 299.8L363.1 299.9L363.4 300.0L363.8 300.0L364.2 300.1L364.5 300.1L364.9 300.2L365.2 300.2L365.6 300.2L366.0 300.2L366.3 300.3L366.7 300.3L367.0 300.3L367.4 300.3L367.7 300.3L368.1 300.3L368.5 300.3L368.8 300.4L369.2 300.4L369.5 300.4L369.9 300.4L370.3 300.4L370.6 300.4L371.0 300.4L371.3 300.4L371.7 300.4L372.0 300.4L372.4 300.4L372.8 300.4L373.1 300.4L373.5 300.4L373.8 300.4L374.2 300.4L374.6 300.4L374.9 300.4L375.3 300.4L375.6 300.4L376.0 300.4L376.3 300.4L376.7 300.4L377.1 300.4L377.4 300.4L377.8 300.4L378.1 300.4L378.5 300.4L378.9 300.4L379.2 300.4L379.6 300.4L379.9 300.4L380.3 300.4L380.6 300.4L381.0 300.4L381.4 300.4L381.7 300.4L382.1 300.4L382.4 300.4L382.8 300.4L383.2 300.4L383.5 300.4L383.9 300.4L384.2 300.4L384.6 300.4L384.9 300.4L385.3 300.4L385.7 300.4L386.0 300.4L386.4 300.4L386.7 300.4L387.1 300.4L387.4 300.4L387.8 300.4L388.2 300.4L388.5 300.4L388.9 300.4L389.2 300.4L389.6 300.4L390.0 300.4L390.3 300.4L390.7 300.4L391.0 300.4L391.4 300.4L391.7 300.4L392.1 300.4L392.5 300.4L392.8 300.4L393.2 300.4L393.5 300.4L393.9 300.4L394.3 300.4L394.6 300.4L395.0 300.4L395.3 300.4L395.7 300.4L396.0 300.4L396.4 300.4L396.8 300.4L397.1 300.4L397.5 300.4L397.8 300.4L398.2 300.4L398.6 300.4L398.9 300.4L399.3 300.4L399.6 300.3L400.0 300.3L400.3 300.3L400.7 300.3L401.1 300.3L401.4 300.2L401.8 300.2L402.1 300.2L402.5 300.1L402.9 300.1L403.2 300.0L403.6 299.9L403.9 299.8L404.3 299.7L404.6 299.6L405.0 299.4L405.4 299.2L405.7 298.9L406.1 298.6L406.4 298.3L406.8 297.8L407.2 297.3L407.5 296.7L407.9 296.0L408.2 295.1L408.6 294.1L408.9 292.9L409.3 291.5L409.7 289.9L410.0 288.0L410.4 285.9L410.7 283.6L411.1 281.1L411.5 278.3L411.8 275.4L412.2 272.5L412.5 269.6L412.9 266.9L413.2 264.4L413.6 262.4L414.0 261.0L414.3 260.3L414.7 260.2L415.0 260.7L415.4 261.5L415.8 262.7L416.1 264.3L416.5 266.1L416.8 268.2L417.2 270.4L417.5 272.6L417.9 274.9L418.3 277.2L418.6 279.4L419.0 281.5L419.3 283.5L419.7 285.3L420.1 287.0L420.4 288.6L420.8 290.0L421.1 291.2L421.5 292.4L421.8 293.4L422.2 294.3L422.6 295.0L422.9 295.7L423.3 296.3L423.6 296.9L424.0 297.3L424.4 297.8L424.7 298.1L425.1 298.4L425.4 298.7L425.8 298.9L426.1 299.1L426.5 299.3" fill="none" stroke="#0072bd" stroke-width="2.00" stroke-linejoin="round"/>
<path d="M67.60 435.44L68.0 435.1L68.3 434.7L68.7 434.4L69.0 434.1L69.4 433.8L69.7 433.5L70.1 433.2L70.4 433.0L70.8 432.8L71.1 432.6L71.5 432.4L71.8 432.3L72.2 432.1L72.6 432.0L72.9 431.8L73.3 431.7L73.6 431.7L74.0 431.6L74.3 431.6L74.7 431.6L75.0 431.8L75.4 432.0L75.7 432.2L76.1 432.7L76.4 433.5L76.8 434.6L77.2 435.8L77.5 437.7L77.9 439.9L78.2 442.2L78.6 444.6L78.9 447.1L79.3 449.7L79.6 452.4L80.0 455.1L80.3 457.7L80.7 460.2L81.0 462.5L81.4 464.6L81.8 466.4L82.1 467.9L82.5 469.3L82.8 470.4L83.2 471.3L83.5 472.2L83.9 472.9L84.2 473.4L84.6 473.9L84.9 474.3L85.3 474.6L85.6 474.9L86.0 475.0L86.4 475.2L86.7 475.4L87.1 475.5L87.4 475.6L87.8 475.6L88.1 475.6L88.5 475.6L88.8 475.5L89.2 475.4L89.5 475.3L89.9 475.1L90.2 474.9L90.6 474.7L91.0 474.5L91.3 474.3L91.7 474.0L92.0 473.8L92.4 473.6L92.7 473.3L93.1 473.1L93.4 472.8L93.8 472.6L94.1 472.4L94.5 472.2L94.8 472.0L95.2 471.7L95.6 471.5L95.9 471.3L96.3 471.1L96.6 470.9L97.0 470.6L97.3 470.4L97.7 470.2L98.0 469.9L98.4 469.7L98.7 469.5L99.1 469.2L99.4 469.0L99.8 468.8L100.2 468.5L100.5 468.3L100.9 468.0L101.2 467.8L101.6 467.5L101.9 467.3L102.3 467.0L102.6 466.8L103.0 466.5L103.3 466.2L103.7 466.0L104.0 465.7L104.4 465.5L104.8 465.2L105.1 464.9L105.5 464.7L105.8 464.4L106.2 464.1L106.5 463.8L106.9 463.6L107.2 463.3L107.6 463.0L107.9 462.7L108.3 462.5L108.6 462.2L109.0 461.9L109.4 461.6L109.7 461.3L110.1 461.1L110.4 460.8L110.8 460.5L111.1 460.2L111.5 459.9L111.8 459.6L112.2 459.4L112.5 459.1L112.9 458.8L113.2 458.5L113.6 458.2L114.0 457.9L114.3 457.6L114.7 457.3L115.0 457.0L115.4 456.7L115.7 456.4L116.1 456.2L116.4 455.9L116.8 455.6L117.1 455.3L117.5 455.0L117.8 454.7L118.2 454.4L118.6 454.1L118.9 453.8L119.3 453.5L119.6 453.2L120.0 452.9L120.3 452.6L120.7 452.3L121.0 452.0L121.4 451.7L121.7 451.4L122.1 451.1L122.4 450.8L122.8 450.5L123.2 450.2L123.5 449.9L123.9 449.7L124.2 449.4L124.6 449.1L124.9 448.8L125.3 448.5L125.6 448.2L126.0 447.9L126.3 447.6L126.7 447.3L127.0 447.0L127.4 446.7L127.8 446.4L128.1 446.2L128.5 445.9L128.8 445.6L129.2 445.3L129.5 445.0L129.9 444.7L130.2 444.4L130.6 444.2L130.9 443.9L131.3 443.6L131.6 443.3L132.0 443.0L132.4 442.7L132.7 442.5L133.1 442.2L133.4 441.9L133.8 441.6L134.1 441.4L134.5 441.1L134.8 440.8L135.2 440.6L135.5 440.3L135.9 440.0L136.2 439.8L136.6 439.5L137.0 439.2L137.3 439.0L137.7 438.7L138.0 438.5L138.4 438.2L138.7 438.0L139.1 437.7L139.4 437.4L139.8 437.2L140.1 436.9L140.5 436.7L140.8 436.4L141.2 436.2L141.6 436.0L141.9 435.8L142.3 435.6L142.6 435.3L143.0 435.1L143.3 434.9L143.7 434.7L144.0 434.7L144.4 434.7L144.7 434.8L145.1 435.0L145.4 435.2L145.8 435.5L146.2 436.2L146.5 437.0L146.9 438.1L147.2 439.5L147.6 441.5L147.9 443.5L148.3 445.6L148.6 447.8L149.0 450.1L149.3 452.4L149.7 454.8L150.0 457.2L150.4 459.4L150.8 461.6L151.1 463.5L151.5 465.2L151.8 466.6L152.2 467.8L152.5 468.9L152.9 469.7L153.2 470.5L153.6 471.2L153.9 471.7L154.3 472.2L154.6 472.5L155.0 472.8L155.4 473.1L155.7 473.3L156.1 473.4L156.4 473.5L156.8 473.7L157.1 473.7L157.5 473.8L157.8 473.8L158.2 473.8L158.5 473.7L158.9 473.6L159.2 473.5L159.6 473.4L160.0 473.2L160.3 473.0L160.7 472.8L161.0 472.6L161.4 472.3L161.7 472.1L162.1 471.9L162.4 471.6L162.8 471.4L163.1 471.2L163.5 470.9L163.8 470.7L164.2 470.5L164.6 470.3L164.9 470.1L165.3 469.9L165.6 469.7L166.0 469.4L166.3 469.2L166.7 469.0L167.0 468.8L167.4 468.5L167.7 468.3L168.1 468.1L168.4 467.9L168.8 467.6L169.2 467.4L169.5 467.1L169.9 466.9L170.2 466.7L170.6 466.4L170.9 466.2L171.3 465.9L171.6 465.7L172.0 465.4L172.3 465.2L172.7 464.9L173.0 464.6L173.4 464.4L173.8 464.1L174.1 463.9L174.5 463.6L174.8 463.3L175.2 463.1L175.5 462.8L175.9 462.5L176.2 462.3L176.6 462.0L176.9 461.7L177.3 461.4L177.6 461.2L178.0 460.9L178.4 460.6L178.7 460.3L179.1 460.0L179.4 459.8L179.8 459.5L180.1 459.2L180.5 458.9L180.8 458.6L181.2 458.4L181.5 458.1L181.9 457.8L182.2 457.5L182.6 457.2L183.0 456.9L183.3 456.6L183.7 456.3L184.0 456.1L184.4 455.8L184.7 455.5L185.1 455.2L185.4 454.9L185.8 454.6L186.1 454.3L186.5 454.0L186.8 453.7L187.2 453.5L187.6 453.2L187.9 452.9L188.3 452.6L188.6 452.3L189.0 452.0L189.3 451.7L189.7 451.4L190.0 451.1L190.4 450.8L190.7 450.6L191.1 450.3L191.4 450.0L191.8 449.7L192.2 449.4L192.5 449.1L192.9 448.8L193.2 448.5L193.6 448.3L193.9 448.0L194.3 447.7L194.6 447.4L195.0 447.1L195.3 446.8L195.7 446.6L196.0 446.3L196.4 446.0L196.8 445.7L197.1 445.5L197.5 445.2L197.8 444.9L198.2 444.6L198.5 444.4L198.9 444.1L199.2 443.8L199.6 443.6L199.9 443.3L200.3 443.0L200.6 442.8L201.0 442.5L201.4 442.2L201.7 442.0L202.1 441.7L202.4 441.5L202.8 441.2L203.1 441.0L203.5 440.7L203.8 440.5L204.2 440.2L204.5 440.0L204.9 439.7L205.2 439.5L205.6 439.2L206.0 439.0L206.3 438.7L206.7 438.5L207.0 438.3L207.4 438.1L207.7 437.9L208.1 437.7L208.4 437.4L208.8 437.2L209.1 437.1L209.5 437.0L209.8 437.0L210.2 437.1L210.6 437.2L210.9 437.4L211.3 437.7L211.6 438.3L212.0 439.1L212.3 440.0L212.7 441.3L213.0 443.0L213.4 444.8L213.7 446.7L214.1 448.7L214.4 450.8L214.8 452.9L215.2 455.0L215.5 457.2L215.9 459.2L216.2 461.1L216.6 462.9L216.9 464.4L217.3 465.7L217.6 466.8L218.0 467.8L218.3 468.6L218.7 469.3L219.0 469.9L219.4 470.4L219.8 470.8L220.1 471.1L220.5 471.4L220.8 471.6L221.2 471.8L221.5 471.9L221.9 472.0L222.2 472.1L222.6 472.2L222.9 472.3L223.3 472.3L223.6 472.2L224.0 472.2L224.4 472.1L224.7 472.0L225.1 471.8L225.4 471.7L225.8 471.5L226.1 471.3L226.5 471.1L226.8 470.8L227.2 470.6L227.5 470.4L227.9 470.1L228.2 469.9L228.6 469.7L229.0 469.5L229.3 469.2L229.7 469.0L230.0 468.8L230.4 468.6L230.7 468.4L231.1 468.2L231.4 468.0L231.8 467.8L232.1 467.5L232.5 467.3L232.8 467.1L233.2 466.9L233.6 466.6L233.9 466.4L234.3 466.2L234.6 465.9L235.0 465.7L235.3 465.5L235.7 465.2L236.0 465.0L236.4 464.7L236.7 464.5L237.1 464.2L237.4 464.0L237.8 463.7L238.2 463.5L238.5 463.2L238.9 463.0L239.2 462.7L239.6 462.5L239.9 462.2L240.3 461.9L240.6 461.7L241.0 461.4L241.3 461.1L241.7 460.9L242.0 460.6L242.4 460.3L242.8 460.0L243.1 459.8L243.5 459.5L243.8 459.2L244.2 458.9L244.5 458.7L244.9 458.4L245.2 458.1L245.6 457.8L245.9 457.6L246.3 457.3L246.7 457.0L247.0 456.7L247.4 456.4L247.7 456.1L248.1 455.9L248.4 455.6L248.8 455.3L249.1 455.0L249.5 454.7L249.8 454.4L250.2 454.2L250.5 453.9L250.9 453.6L251.3 453.3L251.6 453.0L252.0 452.7L252.3 452.4L252.7 452.2L253.0 451.9L253.4 451.6L253.7 451.3L254.1 451.0L254.4 450.7L254.8 450.4L255.1 450.2L255.5 449.9L255.9 449.6L256.2 449.3L256.6 449.0L256.9 448.7L257.3 448.5L257.6 448.2L258.0 447.9L258.3 447.6L258.7 447.4L259.0 447.1L259.4 446.8L259.7 446.5L260.1 446.3L260.5 446.0L260.8 445.7L261.2 445.4L261.5 445.2L261.9 444.9L262.2 444.6L262.6 444.4L262.9 444.1L263.3 443.8L263.6 443.6L264.0 443.3L264.3 443.1L264.7 442.8L265.1 442.5L265.4 442.3L265.8 442.0L266.1 441.8L266.5 441.5L266.8 441.3L267.2 441.1L267.5 440.8L267.9 440.6L268.2 440.3L268.6 440.1L268.9 439.8L269.3 439.6L269.7 439.4L270.0 439.1L270.4 438.9L270.7 438.7L271.1 438.5L271.4 438.3L271.8 438.1L272.1 437.9L272.5 437.7L272.8 437.5L273.2 437.5L273.5 437.6L273.9 437.7L274.3 437.8L274.6 438.1L275.0 438.5L275.3 439.1L275.7 439.9L276.0 441.0L276.4 442.5L276.7 444.3L277.1 446.1L277.4 448.0L277.8 450.1L278.1 452.2L278.5 454.3L278.9 456.5L279.2 458.6L279.6 460.5L279.9 462.4L280.3 464.1L280.6 465.5L281.0 466.7L281.3 467.8L281.7 468.6L282.0 469.4L282.4 470.1L282.7 470.6L283.1 471.1L283.5 471.4L283.8 471.7L284.2 472.0L284.5 472.2L284.9 472.3L285.2 472.5L285.6 472.6L285.9 472.7L286.3 472.7L286.6 472.8L287.0 472.8L287.3 472.7L287.7 472.7L288.1 472.6L288.4 472.4L288.8 472.3L289.1 472.1L289.5 471.9L289.8 471.7L290.2 471.5L290.5 471.2L290.9 471.0L291.2 470.8L291.6 470.5L291.9 470.3L292.3 470.0L292.7 469.8L293.0 469.6L293.4 469.4L293.7 469.2L294.1 469.0L294.4 468.8L294.8 468.6L295.1 468.3L295.5 468.1L295.8 467.9L296.2 467.7L296.5 467.4L296.9 467.2L297.3 467.0L297.6 466.7L298.0 466.5L298.3 466.3L298.7 466.0L299.0 465.8L299.4 465.5L299.7 465.3L300.1 465.0L300.4 464.8L300.8 464.5L301.1 464.3L301.5 464.0L301.9 463.8L302.2 463.5L302.6 463.2L302.9 463.0L303.3 462.7L303.6 462.4L304.0 462.2L304.3 461.9L304.7 461.6L305.0 461.4L305.4 461.1L305.7 460.8L306.1 460.5L306.5 460.3L306.8 460.0L307.2 459.7L307.5 459.4L307.9 459.1L308.2 458.9L308.6 458.6L308.9 458.3L309.3 458.0L309.6 457.7L310.0 457.4L310.3 457.2L310.7 456.9L311.1 456.6L311.4 456.3L311.8 456.0L312.1 455.7L312.5 455.4L312.8 455.1L313.2 454.9L313.5 454.6L313.9 454.3L314.2 454.0L314.6 453.7L314.9 453.4L315.3 453.1L315.7 452.8L316.0 452.5L316.4 452.2L316.7 452.0L317.1 451.7L317.4 451.4L317.8 451.1L318.1 450.8L318.5 450.5L318.8 450.2L319.2 449.9L319.5 449.6L319.9 449.4L320.3 449.1L320.6 448.8L321.0 448.5L321.3 448.2L321.7 447.9L322.0 447.6L322.4 447.4L322.7 447.1L323.1 446.8L323.4 446.5L323.8 446.2L324.1 446.0L324.5 445.7L324.9 445.4L325.2 445.1L325.6 444.9L325.9 444.6L326.3 444.3L326.6 444.1L327.0 443.8L327.3 443.5L327.7 443.3L328.0 443.0L328.4 442.7L328.7 442.5L329.1 442.2L329.5 441.9L329.8 441.7L330.2 441.4L330.5 441.2L330.9 440.9L331.2 440.7L331.6 440.4L331.9 440.2L332.3 439.9L332.6 439.7L333.0 439.5L333.3 439.2L333.7 439.0L334.1 438.7L334.4 438.5L334.8 438.3L335.1 438.1L335.5 437.9L335.8 437.7L336.2 437.5L336.5 437.3L336.9 437.2L337.2 437.3L337.6 437.4L337.9 437.5L338.3 437.7L338.7 438.0L339.0 438.6L339.4 439.4L339.7 440.4L340.1 441.8L340.4 443.5L340.8 445.4L341.1 447.3L341.5 449.3L341.8 451.5L342.2 453.6L342.5 455.8L342.9 458.0L343.3 460.0L343.6 461.9L344.0 463.7L344.3 465.2L344.7 466.5L345.0 467.6L345.4 468.6L345.7 469.4L346.1 470.1L346.4 470.7L346.8 471.2L347.1 471.5L347.5 471.9L347.9 472.2L348.2 472.4L348.6 472.5L348.9 472.7L349.3 472.8L349.6 472.9L350.0 473.0L350.3 473.0L350.7 473.0L351.0 473.0L351.4 472.9L351.7 472.9L352.1 472.7L352.5 472.6L352.8 472.4L353.2 472.2L353.5 472.0L353.9 471.8L354.2 471.6L354.6 471.4L354.9 471.1L355.3 470.9L355.6 470.6L356.0 470.4L356.3 470.2L356.7 470.0L357.1 469.8L357.4 469.6L357.8 469.4L358.1 469.2L358.5 468.9L358.8 468.7L359.2 468.5L359.5 468.3L359.9 468.1L360.2 467.8L360.6 467.6L360.9 467.4L361.3 467.2L361.7 466.9L362.0 466.7L362.4 466.5L362.7 466.2L363.1 466.0L363.4 465.7L363.8 465.5L364.1 465.2L364.5 465.0L364.8 464.7L365.2 464.5L365.5 464.2L365.9 464.0L366.3 463.7L366.6 463.5L367.0 463.2L367.3 463.0L367.7 462.7L368.0 462.4L368.4 462.2L368.7 461.9L369.1 461.6L369.4 461.4L369.8 461.1L370.1 460.8L370.5 460.6L370.9 460.3L371.2 460.0L371.6 459.7L371.9 459.5L372.3 459.2L372.6 458.9L373.0 458.6L373.3 458.3L373.7 458.1L374.0 457.8L374.4 457.5L374.7 457.2L375.1 456.9L375.5 456.7L375.8 456.4L376.2 456.1L376.5 455.8L376.9 455.5L377.2 455.2L377.6 455.0L377.9 454.7L378.3 454.4L378.6 454.1L379.0 453.8L379.3 453.5L379.7 453.2L380.1 453.0L380.4 452.7L380.8 452.4L381.1 452.1L381.5 451.8L381.8 451.5L382.2 451.2L382.5 451.0L382.9 450.7L383.2 450.4L383.6 450.1L383.9 449.8L384.3 449.5L384.7 449.2L385.0 449.0L385.4 448.7L385.7 448.4L386.1 448.1L386.4 447.8L386.8 447.6L387.1 447.3L387.5 447.0L387.8 446.7L388.2 446.5L388.5 446.2L388.9 445.9L389.3 445.6L389.6 445.4L390.0 445.1L390.3 444.8L390.7 444.6L391.0 444.3L391.4 444.0L391.7 443.8L392.1 443.5L392.4 443.2L392.8 443.0L393.1 442.7L393.5 442.5L393.9 442.2L394.2 441.9L394.6 441.7L394.9 441.4L395.3 441.2L395.6 440.9L396.0 440.7L396.3 440.5L396.7 440.2L397.0 440.0L397.4 439.7L397.7 439.5L398.1 439.2L398.5 439.0L398.8 438.8L399.2 438.6L399.5 438.3L399.9 438.1L400.2 437.9L400.6 437.7L400.9 437.5L401.3 437.3L401.6 437.1L402.0 437.0L402.3 437.0L402.7 437.1L403.1 437.2L403.4 437.4L403.8 437.7L404.1 438.2L404.5 438.9L404.8 439.8L405.2 441.1L405.5 442.7L405.9 444.6L406.2 446.5L406.6 448.5L406.9 450.6L407.3 452.8L407.7 454.9L408.0 457.2L408.4 459.3L408.7 461.2L409.1 463.1L409.4 464.7L409.8 466.0L410.1 467.2L410.5 468.3L410.8 469.1L411.2 469.8L411.5 470.5L411.9 471.0L412.3 471.4L412.6 471.8L413.0 472.1L413.3 472.3L413.7 472.5L414.0 472.6L414.4 472.8L414.7 472.9L415.1 473.0L415.4 473.0L415.8 473.0L416.1 473.0L416.5 473.0L416.9 473.0L417.2 472.9L417.6 472.9L417.9 472.8L418.3 472.7L418.6 472.6L419.0 472.5L419.3 472.3L419.7 472.1L420.0 471.9L420.4 471.7L420.7 471.5L421.1 471.2" fill="none" stroke="#d95319" stroke-width="2.00" stroke-linejoin="round"/>
<path d="M67.60 435.44L68.0 435.1L68.3 434.7L68.7 434.4L69.0 434.0L69.4 433.7L69.7 433.4L70.1 433.2L70.4 432.9L70.8 432.8L71.1 432.6L71.5 432.5L71.8 432.4L72.2 432.3L72.6 432.2L72.9 432.1L73.3 432.0L73.6 431.9L74.0 431.8L74.3 431.8L74.7 431.7L75.0 431.7L75.4 431.6L75.7 431.6L76.1 431.6L76.4 431.6L76.8 431.7L77.2 432.0L77.5 432.3L77.9 432.6L78.2 433.2L78.6 434.0L78.9 435.0L79.3 436.3L79.6 437.8L80.0 439.9L80.3 442.3L80.7 444.8L81.0 447.7L81.4 451.1L81.8 454.6L82.1 457.7L82.5 460.6L82.8 463.4L83.2 465.9L83.5 468.0L83.9 469.6L84.2 471.1L84.6 472.5L84.9 473.5L85.3 474.4L85.6 475.0L86.0 475.6L86.4 476.1L86.7 476.4L87.1 476.7L87.4 476.8L87.8 476.9L88.1 477.0L88.5 477.1L88.8 477.1L89.2 477.2L89.5 477.1L89.9 477.1L90.2 477.0L90.6 476.9L91.0 476.8L91.3 476.6L91.7 476.5L92.0 476.3L92.4 476.1L92.7 475.8L93.1 475.6L93.4 475.4L93.8 475.2L94.1 474.9L94.5 474.7L94.8 474.5L95.2 474.2L95.6 474.0L95.9 473.8L96.3 473.6L96.6 473.4L97.0 473.2L97.3 472.9L97.7 472.7L98.0 472.5L98.4 472.3L98.7 472.0L99.1 471.8L99.4 471.6L99.8 471.3L100.2 471.1L100.5 470.9L100.9 470.6L101.2 470.4L101.6 470.1L101.9 469.9L102.3 469.6L102.6 469.3L103.0 469.1L103.3 468.8L103.7 468.6L104.0 468.3L104.4 468.0L104.8 467.8L105.1 467.5L105.5 467.2L105.8 466.9L106.2 466.7L106.5 466.4L106.9 466.1L107.2 465.8L107.6 465.5L107.9 465.3L108.3 465.0L108.6 464.7L109.0 464.4L109.4 464.1L109.7 463.8L110.1 463.6L110.4 463.3L110.8 463.0L111.1 462.7L111.5 462.4L111.8 462.1L112.2 461.8L112.5 461.5L112.9 461.2L113.2 461.0L113.6 460.7L114.0 460.4L114.3 460.1L114.7 459.8L115.0 459.5L115.4 459.2L115.7 458.9L116.1 458.6L116.4 458.3L116.8 458.1L117.1 457.8L117.5 457.5L117.8 457.2L118.2 456.9L118.6 456.6L118.9 456.4L119.3 456.1L119.6 455.8L120.0 455.5L120.3 455.2L120.7 455.0L121.0 454.7L121.4 454.4L121.7 454.1L122.1 453.9L122.4 453.6L122.8 453.3L123.2 453.0L123.5 452.7L123.9 452.5L124.2 452.2L124.6 451.9L124.9 451.6L125.3 451.3L125.6 451.0L126.0 450.7L126.3 450.5L126.7 450.2L127.0 449.9L127.4 449.6L127.8 449.3L128.1 449.0L128.5 448.7L128.8 448.4L129.2 448.2L129.5 447.9L129.9 447.6L130.2 447.3L130.6 447.0L130.9 446.7L131.3 446.4L131.6 446.1L132.0 445.8L132.4 445.6L132.7 445.3L133.1 445.0L133.4 444.7L133.8 444.4L134.1 444.1L134.5 443.9L134.8 443.6L135.2 443.3L135.5 443.0L135.9 442.7L136.2 442.5L136.6 442.2L137.0 441.9L137.3 441.6L137.7 441.4L138.0 441.1L138.4 440.8L138.7 440.6L139.1 440.3L139.4 440.0L139.8 439.8L140.1 439.5L140.5 439.2L140.8 439.0L141.2 438.7L141.6 438.5L141.9 438.2L142.3 438.0L142.6 437.7L143.0 437.5L143.3 437.3L143.7 437.0L144.0 436.8L144.4 436.6L144.7 436.3L145.1 436.1L145.4 435.9L145.8 435.6L146.2 435.4L146.5 435.1L146.9 434.9L147.2 434.7L147.6 434.4L147.9 434.2L148.3 433.9L148.6 433.6L149.0 433.2L149.3 432.9L149.7 432.5L150.0 432.0L150.4 431.5L150.8 430.9L151.1 430.1L151.5 429.0L151.8 427.8L152.2 426.4L152.5 424.9L152.9 423.4L153.2 422.0L153.6 420.6L153.9 419.0L154.3 417.3L154.6 415.6L155.0 414.0L155.4 412.7L155.7 411.8L156.1 411.0L156.4 410.3L156.8 409.8L157.1 409.7L157.5 409.7L157.8 409.8L158.2 409.9L158.5 409.9L158.9 410.0L159.2 410.0L159.6 410.0L160.0 410.1L160.3 410.1L160.7 410.1L161.0 410.2L161.4 410.2L161.7 410.2L162.1 410.2L162.4 410.2L162.8 410.2L163.1 410.2L163.5 410.2L163.8 410.1L164.2 410.1L164.6 410.0L164.9 410.0L165.3 409.9L165.6 409.8L166.0 409.7L166.3 409.6L166.7 409.5L167.0 409.4L167.4 409.3L167.7 409.2L168.1 409.1L168.4 409.0L168.8 408.8L169.2 408.7L169.5 408.6L169.9 408.5L170.2 408.4L170.6 408.2L170.9 408.1L171.3 408.0L171.6 407.9L172.0 407.8L172.3 407.7L172.7 407.6L173.0 407.5L173.4 407.4L173.8 407.3L174.1 407.2L174.5 407.1L174.8 407.0L175.2 406.9L175.5 406.8L175.9 406.6L176.2 406.5L176.6 406.4L176.9 406.3L177.3 406.2L177.6 406.1L178.0 406.0L178.4 405.9L178.7 405.8L179.1 405.7L179.4 405.5L179.8 405.4L180.1 405.4L180.5 405.3L180.8 405.2L181.2 405.1L181.5 405.0L181.9 404.9L182.2 404.8L182.6 404.8L183.0 404.7L183.3 404.6L183.7 404.6L184.0 404.5L184.4 404.4L184.7 404.4L185.1 404.3L185.4 404.2L185.8 404.2L186.1 404.1L186.5 404.0L186.8 404.0L187.2 403.9L187.6 403.9L187.9 403.9L188.3 403.8L188.6 403.8L189.0 403.8L189.3 403.8L189.7 403.8L190.0 403.8L190.4 403.8L190.7 403.8L191.1 403.8L191.4 403.8L191.8 403.9L192.2 403.9L192.5 403.9L192.9 404.0L193.2 404.0L193.6 404.1L193.9 404.1L194.3 404.2L194.6 404.2L195.0 404.3L195.3 404.4L195.7 404.4L196.0 404.5L196.4 404.6L196.8 404.7L197.1 404.9L197.5 405.1L197.8 405.3L198.2 405.6L198.5 405.9L198.9 406.3L199.2 406.7L199.6 407.1L199.9 407.6L200.3 408.1L200.6 408.9L201.0 409.7L201.4 410.7L201.7 411.8L202.1 413.0L202.4 414.4L202.8 416.1L203.1 418.0L203.5 420.1L203.8 422.5L204.2 425.4L204.5 428.8L204.9 432.3L205.2 435.7L205.6 439.0L206.0 442.3L206.3 445.7L206.7 449.2L207.0 452.8L207.4 456.6L207.7 461.3L208.1 466.2L208.4 470.6L208.8 473.6L209.1 475.4L209.5 476.8L209.8 477.9L210.2 478.7L210.6 479.1L210.9 479.5L211.3 479.8L211.6 480.0L212.0 480.1L212.3 480.1L212.7 480.0L213.0 480.0L213.4 479.9L213.7 479.8L214.1 479.6L214.4 479.5L214.8 479.3L215.2 479.1L215.5 478.9L215.9 478.7L216.2 478.5L216.6 478.3L216.9 478.1L217.3 477.8L217.6 477.6L218.0 477.4L218.3 477.1L218.7 476.9L219.0 476.7L219.4 476.5L219.8 476.3L220.1 476.1L220.5 475.9L220.8 475.7L221.2 475.5L221.5 475.3L221.9 475.1L222.2 474.9L222.6 474.6L222.9 474.4L223.3 474.2L223.6 474.0L224.0 473.8L224.4 473.6L224.7 473.3L225.1 473.1L225.4 472.9L225.8 472.7L226.1 472.4L226.5 472.2L226.8 472.0L227.2 471.7L227.5 471.5L227.9 471.3L228.2 471.0L228.6 470.8L229.0 470.5L229.3 470.3L229.7 470.1L230.0 469.8L230.4 469.6L230.7 469.3L231.1 469.1L231.4 468.8L231.8 468.6L232.1 468.3L232.5 468.1L232.8 467.8L233.2 467.5L233.6 467.3L233.9 467.0L234.3 466.8L234.6 466.5L235.0 466.3L235.3 466.0L235.7 465.7L236.0 465.5L236.4 465.2L236.7 464.9L237.1 464.7L237.4 464.4L237.8 464.1L238.2 463.9L238.5 463.6L238.9 463.3L239.2 463.1L239.6 462.8L239.9 462.5L240.3 462.2L240.6 462.0L241.0 461.7L241.3 461.4L241.7 461.2L242.0 460.9L242.4 460.6L242.8 460.3L243.1 460.1L243.5 459.8L243.8 459.5L244.2 459.2L244.5 459.0L244.9 458.7L245.2 458.4L245.6 458.1L245.9 457.8L246.3 457.6L246.7 457.3L247.0 457.0L247.4 456.7L247.7 456.5L248.1 456.2L248.4 455.9L248.8 455.6L249.1 455.3L249.5 455.1L249.8 454.8L250.2 454.5L250.5 454.2L250.9 454.0L251.3 453.7L251.6 453.4L252.0 453.1L252.3 452.9L252.7 452.6L253.0 452.3L253.4 452.0L253.7 451.8L254.1 451.5L254.4 451.2L254.8 450.9L255.1 450.7L255.5 450.4L255.9 450.1L256.2 449.8L256.6 449.6L256.9 449.3L257.3 449.0L257.6 448.8L258.0 448.5L258.3 448.2L258.7 448.0L259.0 447.7L259.4 447.4L259.7 447.2L260.1 446.9L260.5 446.6L260.8 446.4L261.2 446.1L261.5 445.9L261.9 445.6L262.2 445.3L262.6 445.1L262.9 444.8L263.3 444.6L263.6 444.3L264.0 444.0L264.3 443.8L264.7 443.5L265.1 443.2L265.4 443.0L265.8 442.7L266.1 442.4L266.5 442.1L266.8 441.9L267.2 441.6L267.5 441.3L267.9 441.1L268.2 440.8L268.6 440.5L268.9 440.3L269.3 440.0L269.7 439.7L270.0 439.5L270.4 439.2L270.7 439.0L271.1 438.7L271.4 438.5L271.8 438.2L272.1 438.0L272.5 437.7L272.8 437.5L273.2 437.2L273.5 437.0L273.9 436.8L274.3 436.6L274.6 436.3L275.0 436.1L275.3 435.8L275.7 435.6L276.0 435.3L276.4 435.1L276.7 434.9L277.1 434.7L277.4 434.7L277.8 434.7L278.1 434.7L278.5 434.8L278.9 435.0L279.2 435.2L279.6 435.4L279.9 435.6L280.3 436.1L280.6 436.7L281.0 437.4L281.3 438.1L281.7 438.8L282.0 439.5L282.4 440.2L282.7 441.0L283.1 441.7L283.5 442.3L283.8 442.6L284.2 442.8L284.5 443.1L284.9 443.3L285.2 443.4L285.6 443.4L285.9 443.4L286.3 443.3L286.6 443.2L287.0 443.0L287.3 442.8L287.7 442.6L288.1 442.4L288.4 442.1L288.8 441.9L289.1 441.6L289.5 441.4L289.8 441.1L290.2 440.9L290.5 440.7L290.9 440.5L291.2 440.3L291.6 440.1L291.9 440.0L292.3 439.8L292.7 439.6L293.0 439.4L293.4 439.2L293.7 439.0L294.1 438.8L294.4 438.6L294.8 438.4L295.1 438.2L295.5 438.0L295.8 437.8L296.2 437.6L296.5 437.4L296.9 437.2L297.3 437.0L297.6 436.8L298.0 436.6L298.3 436.4L298.7 436.2L299.0 436.0L299.4 435.8L299.7 435.6L300.1 435.4L300.4 435.2L300.8 435.0L301.1 434.8L301.5 434.6L301.9 434.4L302.2 434.3L302.6 434.1L302.9 433.9L303.3 433.7L303.6 433.5L304.0 433.3L304.3 433.1L304.7 432.9L305.0 432.7L305.4 432.5L305.7 432.3L306.1 432.1L306.5 431.9L306.8 431.7L307.2 431.5L307.5 431.3L307.9 431.1L308.2 430.9L308.6 430.7L308.9 430.5L309.3 430.3L309.6 430.1L310.0 429.9L310.3 429.7L310.7 429.5L311.1 429.3L311.4 429.0L311.8 428.8L312.1 428.6L312.5 428.4L312.8 428.2L313.2 428.0L313.5 427.8L313.9 427.6L314.2 427.4L314.6 427.2L314.9 427.0L315.3 426.8L315.7 426.6L316.0 426.4L316.4 426.2L316.7 426.0L317.1 425.8L317.4 425.6L317.8 425.4L318.1 425.2L318.5 425.0L318.8 424.8L319.2 424.6L319.5 424.4L319.9 424.2L320.3 424.0L320.6 423.7L321.0 423.5L321.3 423.3L321.7 423.0L322.0 422.8L322.4 422.5L322.7 422.3L323.1 422.0L323.4 421.7L323.8 421.5L324.1 421.3L324.5 421.0L324.9 420.8L325.2 420.6L325.6 420.4L325.9 420.2L326.3 420.1L326.6 419.9L327.0 419.8L327.3 419.8L327.7 419.7L328.0 419.6L328.4 419.6L328.7 419.5L329.1 419.5L329.5 419.5L329.8 419.5L330.2 419.6L330.5 419.8L330.9 420.0L331.2 420.3L331.6 420.6L331.9 421.0L332.3 421.4L332.6 421.9L333.0 422.6L333.3 423.5L333.7 424.5L334.1 425.7L334.4 427.6L334.8 430.0L335.1 432.9L335.5 436.2L335.8 440.0L336.2 444.9L336.5 450.2L336.9 455.2L337.2 459.7L337.6 464.3L337.9 468.4L338.3 471.3L338.7 473.0L339.0 474.4L339.4 475.5L339.7 476.3L340.1 476.8L340.4 477.1L340.8 477.3L341.1 477.5L341.5 477.7L341.8 477.8L342.2 477.9L342.5 478.0L342.9 478.1L343.3 478.1L343.6 478.1L344.0 478.1L344.3 478.0L344.7 477.9L345.0 477.8L345.4 477.7L345.7 477.5L346.1 477.4L346.4 477.2L346.8 477.0L347.1 476.8L347.5 476.6L347.9 476.4L348.2 476.2L348.6 475.9L348.9 475.7L349.3 475.5L349.6 475.3L350.0 475.1L350.3 474.9L350.7 474.7L351.0 474.5L351.4 474.3L351.7 474.1L352.1 473.9L352.5 473.7L352.8 473.5L353.2 473.3L353.5 473.0L353.9 472.8L354.2 472.6L354.6 472.4L354.9 472.2L355.3 471.9L355.6 471.7L356.0 471.5L356.3 471.2L356.7 471.0L357.1 470.8L357.4 470.5L357.8 470.3L358.1 470.0L358.5 469.8L358.8 469.6L359.2 469.3L359.5 469.1L359.9 468.8L360.2 468.5L360.6 468.3L360.9 468.0L361.3 467.8L361.7 467.5L362.0 467.2L362.4 467.0L362.7 466.7L363.1 466.4L363.4 466.2L363.8 465.9L364.1 465.6L364.5 465.4L364.8 465.1L365.2 464.8L365.5 464.5L365.9 464.3L366.3 464.0L366.6 463.7L367.0 463.4L367.3 463.1L367.7 462.9L368.0 462.6L368.4 462.3L368.7 462.0L369.1 461.7L369.4 461.4L369.8 461.1L370.1 460.8L370.5 460.6L370.9 460.3L371.2 460.0L371.6 459.7L371.9 459.4L372.3 459.1L372.6 458.8L373.0 458.5L373.3 458.2L373.7 457.9L374.0 457.6L374.4 457.3L374.7 457.0L375.1 456.7L375.5 456.4L375.8 456.1L376.2 455.9L376.5 455.6L376.9 455.3L377.2 455.0L377.6 454.7L377.9 454.4L378.3 454.1L378.6 453.8L379.0 453.5L379.3 453.2L379.7 452.9L380.1 452.6L380.4 452.3L380.8 452.0L381.1 451.7L381.5 451.4L381.8 451.2L382.2 450.9L382.5 450.6L382.9 450.3L383.2 450.0L383.6 449.7L383.9 449.4L384.3 449.1L384.7 448.8L385.0 448.6L385.4 448.3L385.7 448.0L386.1 447.7L386.4 447.4L386.8 447.2L387.1 446.9L387.5 446.6L387.8 446.3L388.2 446.1L388.5 445.8L388.9 445.5L389.3 445.2L389.6 445.0L390.0 444.7L390.3 444.4L390.7 444.2L391.0 443.9L391.4 443.7L391.7 443.4L392.1 443.1L392.4 442.9L392.8 442.6L393.1 442.4L393.5 442.1L393.9 441.9L394.2 441.6L394.6 441.4L394.9 441.1L395.3 440.9L395.6 440.6L396.0 440.4L396.3 440.1L396.7 439.9L397.0 439.6L397.4 439.3L397.7 439.1L398.1 438.8L398.5 438.6L398.8 438.3L399.2 438.1L399.5 437.9L399.9 437.6L400.2 437.4L400.6 437.2L400.9 437.0L401.3 436.8L401.6 436.6L402.0 436.4L402.3 436.2L402.7 436.0L403.1 435.9L403.4 435.7L403.8 435.6L404.1 435.4L404.5 435.3L404.8 435.2L405.2 435.2L405.5 435.2L405.9 435.4L406.2 435.7L406.6 436.0L406.9 436.3L407.3 436.7L407.7 437.2L408.0 437.9L408.4 438.8L408.7 439.7L409.1 440.7L409.4 441.7L409.8 442.6L410.1 443.6L410.5 444.7L410.8 445.8L411.2 446.8L411.5 447.7L411.9 448.3L412.3 448.8L412.6 449.2L413.0 449.6L413.3 450.0L413.7 450.3L414.0 450.4L414.4 450.5L414.7 450.5L415.1 450.4L415.4 450.3L415.8 450.1L416.1 449.9L416.5 449.7L416.9 449.5L417.2 449.3L417.6 449.1L417.9 448.9L418.3 448.7L418.6 448.5L419.0 448.3L419.3 448.1L419.7 447.9L420.0 447.7L420.4 447.5L420.7 447.3L421.1 447.0" fill="none" stroke="#0072bd" stroke-width="2.00" stroke-linejoin="round"/>
<path d="M67.60 670.27L68.0 670.2L68.3 670.2L68.7 670.2L69.0 670.1L69.4 670.1L69.7 670.0L70.1 669.9L70.4 669.8L70.8 669.7L71.1 669.5L71.5 669.4L71.8 669.1L72.2 668.9L72.6 668.6L72.9 668.2L73.3 667.7L73.6 667.2L74.0 666.5L74.3 665.8L74.7 664.9L75.0 663.8L75.4 662.5L75.7 661.0L76.1 659.2L76.4 657.2L76.8 654.9L77.2 652.2L77.5 649.3L77.9 646.0L78.2 642.5L78.6 638.8L78.9 635.0L79.3 631.2L79.6 627.7L80.0 624.4L80.3 621.8L80.7 619.8L81.0 618.7L81.4 618.5L81.8 618.9L82.1 619.9L82.5 621.4L82.8 623.4L83.2 625.7L83.5 628.3L83.9 631.1L84.2 634.0L84.6 637.0L84.9 639.9L85.3 642.8L85.6 645.5L86.0 648.1L86.4 650.5L86.7 652.7L87.1 654.8L87.4 656.6L87.8 658.3L88.1 659.8L88.5 661.1L88.8 662.3L89.2 663.3L89.5 664.2L89.9 665.0L90.2 665.7L90.6 666.4L91.0 666.9L91.3 667.4L91.7 667.8L92.0 668.1L92.4 668.4L92.7 668.7L93.1 668.9L93.4 669.1L93.8 669.3L94.1 669.5L94.5 669.6L94.8 669.7L95.2 669.8L95.6 669.9L95.9 669.9L96.3 670.0L96.6 670.1L97.0 670.1L97.3 670.1L97.7 670.2L98.0 670.2L98.4 670.2L98.7 670.3L99.1 670.3L99.4 670.3L99.8 670.3L100.2 670.3L100.5 670.3L100.9 670.3L101.2 670.4L101.6 670.4L101.9 670.4L102.3 670.4L102.6 670.4L103.0 670.4L103.3 670.4L103.7 670.4L104.0 670.4L104.4 670.4L104.8 670.4L105.1 670.4L105.5 670.4L105.8 670.4L106.2 670.4L106.5 670.4L106.9 670.4L107.2 670.4L107.6 670.4L107.9 670.4L108.3 670.4L108.6 670.4L109.0 670.4L109.4 670.4L109.7 670.4L110.1 670.4L110.4 670.4L110.8 670.4L111.1 670.4L111.5 670.4L111.8 670.4L112.2 670.4L112.5 670.4L112.9 670.4L113.2 670.4L113.6 670.4L114.0 670.4L114.3 670.4L114.7 670.4L115.0 670.4L115.4 670.4L115.7 670.4L116.1 670.4L116.4 670.4L116.8 670.4L117.1 670.4L117.5 670.4L117.8 670.4L118.2 670.4L118.6 670.4L118.9 670.4L119.3 670.4L119.6 670.4L120.0 670.4L120.3 670.4L120.7 670.4L121.0 670.4L121.4 670.4L121.7 670.4L122.1 670.4L122.4 670.4L122.8 670.4L123.2 670.4L123.5 670.4L123.9 670.4L124.2 670.4L124.6 670.4L124.9 670.4L125.3 670.4L125.6 670.4L126.0 670.4L126.3 670.4L126.7 670.4L127.0 670.4L127.4 670.4L127.8 670.4L128.1 670.4L128.5 670.4L128.8 670.4L129.2 670.4L129.5 670.4L129.9 670.4L130.2 670.4L130.6 670.4L130.9 670.4L131.3 670.4L131.6 670.4L132.0 670.4L132.4 670.4L132.7 670.4L133.1 670.4L133.4 670.4L133.8 670.4L134.1 670.4L134.5 670.4L134.8 670.4L135.2 670.4L135.5 670.4L135.9 670.4L136.2 670.3L136.6 670.3L137.0 670.3L137.3 670.3L137.7 670.3L138.0 670.3L138.4 670.2L138.7 670.2L139.1 670.2L139.4 670.1L139.8 670.1L140.1 670.0L140.5 669.9L140.8 669.8L141.2 669.7L141.6 669.5L141.9 669.3L142.3 669.1L142.6 668.8L143.0 668.5L143.3 668.1L143.7 667.7L144.0 667.1L144.4 666.4L144.7 665.7L145.1 664.7L145.4 663.6L145.8 662.3L146.2 660.8L146.5 659.1L146.9 657.1L147.2 654.8L147.6 652.3L147.9 649.5L148.3 646.5L148.6 643.3L149.0 640.0L149.3 636.8L149.7 633.6L150.0 630.8L150.4 628.5L150.8 626.8L151.1 625.8L151.5 625.5L151.8 625.9L152.2 626.7L152.5 628.0L152.9 629.7L153.2 631.7L153.6 633.9L153.9 636.3L154.3 638.8L154.6 641.4L155.0 643.9L155.4 646.4L155.7 648.8L156.1 651.0L156.4 653.1L156.8 655.0L157.1 656.8L157.5 658.4L157.8 659.9L158.2 661.1L158.5 662.3L158.9 663.3L159.2 664.2L159.6 665.0L160.0 665.7L160.3 666.3L160.7 666.9L161.0 667.3L161.4 667.8L161.7 668.1L162.1 668.4L162.4 668.7L162.8 668.9L163.1 669.1L163.5 669.3L163.8 669.4L164.2 669.6L164.6 669.7L164.9 669.8L165.3 669.9L165.6 669.9L166.0 670.0L166.3 670.1L166.7 670.1L167.0 670.1L167.4 670.2L167.7 670.2L168.1 670.2L168.4 670.3L168.8 670.3L169.2 670.3L169.5 670.3L169.9 670.3L170.2 670.3L170.6 670.3L170.9 670.4L171.3 670.4L171.6 670.4L172.0 670.4L172.3 670.4L172.7 670.4L173.0 670.4L173.4 670.4L173.8 670.4L174.1 670.4L174.5 670.4L174.8 670.4L175.2 670.4L175.5 670.4L175.9 670.4L176.2 670.4L176.6 670.4L176.9 670.4L177.3 670.4L177.6 670.4L178.0 670.4L178.4 670.4L178.7 670.4L179.1 670.4L179.4 670.4L179.8 670.4L180.1 670.4L180.5 670.4L180.8 670.4L181.2 670.4L181.5 670.4L181.9 670.4L182.2 670.4L182.6 670.4L183.0 670.4L183.3 670.4L183.7 670.4L184.0 670.4L184.4 670.4L184.7 670.4L185.1 670.4L185.4 670.4L185.8 670.4L186.1 670.4L186.5 670.4L186.8 670.4L187.2 670.4L187.6 670.4L187.9 670.4L188.3 670.4L188.6 670.4L189.0 670.4L189.3 670.4L189.7 670.4L190.0 670.4L190.4 670.4L190.7 670.4L191.1 670.4L191.4 670.4L191.8 670.4L192.2 670.4L192.5 670.4L192.9 670.4L193.2 670.4L193.6 670.4L193.9 670.4L194.3 670.4L194.6 670.4L195.0 670.4L195.3 670.4L195.7 670.4L196.0 670.4L196.4 670.4L196.8 670.4L197.1 670.4L197.5 670.4L197.8 670.4L198.2 670.4L198.5 670.4L198.9 670.4L199.2 670.4L199.6 670.4L199.9 670.4L200.3 670.4L200.6 670.4L201.0 670.4L201.4 670.4L201.7 670.4L202.1 670.3L202.4 670.3L202.8 670.3L203.1 670.3L203.5 670.3L203.8 670.3L204.2 670.2L204.5 670.2L204.9 670.1L205.2 670.1L205.6 670.0L206.0 669.9L206.3 669.8L206.7 669.7L207.0 669.6L207.4 669.4L207.7 669.2L208.1 669.0L208.4 668.7L208.8 668.3L209.1 667.9L209.5 667.4L209.8 666.8L210.2 666.0L210.6 665.2L210.9 664.2L211.3 663.0L211.6 661.6L212.0 660.0L212.3 658.2L212.7 656.2L213.0 653.9L213.4 651.4L213.7 648.7L214.1 645.8L214.4 642.9L214.8 640.0L215.2 637.3L215.5 634.9L215.9 632.9L216.2 631.5L216.6 630.7L216.9 630.6L217.3 631.0L217.6 631.8L218.0 633.0L218.3 634.6L218.7 636.4L219.0 638.4L219.4 640.6L219.8 642.8L220.1 645.1L220.5 647.3L220.8 649.5L221.2 651.6L221.5 653.6L221.9 655.4L222.2 657.1L222.6 658.6L222.9 660.0L223.3 661.3L223.6 662.4L224.0 663.4L224.4 664.3L224.7 665.1L225.1 665.8L225.4 666.4L225.8 666.9L226.1 667.4L226.5 667.8L226.8 668.1L227.2 668.4L227.5 668.7L227.9 668.9L228.2 669.1L228.6 669.3L229.0 669.4L229.3 669.6L229.7 669.7L230.0 669.8L230.4 669.9L230.7 669.9L231.1 670.0L231.4 670.1L231.8 670.1L232.1 670.1L232.5 670.2L232.8 670.2L233.2 670.2L233.6 670.3L233.9 670.3L234.3 670.3L234.6 670.3L235.0 670.3L235.3 670.3L235.7 670.3L236.0 670.4L236.4 670.4L236.7 670.4L237.1 670.4L237.4 670.4L237.8 670.4L238.2 670.4L238.5 670.4L238.9 670.4L239.2 670.4L239.6 670.4L239.9 670.4L240.3 670.4L240.6 670.4L241.0 670.4L241.3 670.4L241.7 670.4L242.0 670.4L242.4 670.4L242.8 670.4L243.1 670.4L243.5 670.4L243.8 670.4L244.2 670.4L244.5 670.4L244.9 670.4L245.2 670.4L245.6 670.4L245.9 670.4L246.3 670.4L246.7 670.4L247.0 670.4L247.4 670.4L247.7 670.4L248.1 670.4L248.4 670.4L248.8 670.4L249.1 670.4L249.5 670.4L249.8 670.4L250.2 670.4L250.5 670.4L250.9 670.4L251.3 670.4L251.6 670.4L252.0 670.4L252.3 670.4L252.7 670.4L253.0 670.4L253.4 670.4L253.7 670.4L254.1 670.4L254.4 670.4L254.8 670.4L255.1 670.4L255.5 670.4L255.9 670.4L256.2 670.4L256.6 670.4L256.9 670.4L257.3 670.4L257.6 670.4L258.0 670.4L258.3 670.4L258.7 670.4L259.0 670.4L259.4 670.4L259.7 670.4L260.1 670.4L260.5 670.4L260.8 670.4L261.2 670.4L261.5 670.4L261.9 670.4L262.2 670.4L262.6 670.4L262.9 670.4L263.3 670.4L263.6 670.4L264.0 670.4L264.3 670.4L264.7 670.4L265.1 670.4L265.4 670.4L265.8 670.3L266.1 670.3L266.5 670.3L266.8 670.3L267.2 670.3L267.5 670.2L267.9 670.2L268.2 670.2L268.6 670.1L268.9 670.1L269.3 670.0L269.7 669.9L270.0 669.8L270.4 669.7L270.7 669.6L271.1 669.4L271.4 669.2L271.8 668.9L272.1 668.6L272.5 668.2L272.8 667.8L273.2 667.3L273.5 666.7L273.9 665.9L274.3 665.1L274.6 664.0L275.0 662.8L275.3 661.4L275.7 659.8L276.0 657.9L276.4 655.9L276.7 653.5L277.1 651.0L277.4 648.3L277.8 645.4L278.1 642.5L278.5 639.7L278.9 637.0L279.2 634.7L279.6 632.8L279.9 631.5L280.3 630.8L280.6 630.9L281.0 631.3L281.3 632.2L281.7 633.5L282.0 635.1L282.4 636.9L282.7 638.9L283.1 641.1L283.5 643.4L283.8 645.6L284.2 647.8L284.5 650.0L284.9 652.0L285.2 654.0L285.6 655.8L285.9 657.4L286.3 658.9L286.6 660.3L287.0 661.5L287.3 662.6L287.7 663.6L288.1 664.5L288.4 665.2L288.8 665.9L289.1 666.5L289.5 667.0L289.8 667.4L290.2 667.8L290.5 668.2L290.9 668.5L291.2 668.7L291.6 669.0L291.9 669.2L292.3 669.3L292.7 669.5L293.0 669.6L293.4 669.7L293.7 669.8L294.1 669.9L294.4 670.0L294.8 670.0L295.1 670.1L295.5 670.1L295.8 670.2L296.2 670.2L296.5 670.2L296.9 670.2L297.3 670.3L297.6 670.3L298.0 670.3L298.3 670.3L298.7 670.3L299.0 670.3L299.4 670.3L299.7 670.4L300.1 670.4L300.4 670.4L300.8 670.4L301.1 670.4L301.5 670.4L301.9 670.4L302.2 670.4L302.6 670.4L302.9 670.4L303.3 670.4L303.6 670.4L304.0 670.4L304.3 670.4L304.7 670.4L305.0 670.4L305.4 670.4L305.7 670.4L306.1 670.4L306.5 670.4L306.8 670.4L307.2 670.4L307.5 670.4L307.9 670.4L308.2 670.4L308.6 670.4L308.9 670.4L309.3 670.4L309.6 670.4L310.0 670.4L310.3 670.4L310.7 670.4L311.1 670.4L311.4 670.4L311.8 670.4L312.1 670.4L312.5 670.4L312.8 670.4L313.2 670.4L313.5 670.4L313.9 670.4L314.2 670.4L314.6 670.4L314.9 670.4L315.3 670.4L315.7 670.4L316.0 670.4L316.4 670.4L316.7 670.4L317.1 670.4L317.4 670.4L317.8 670.4L318.1 670.4L318.5 670.4L318.8 670.4L319.2 670.4L319.5 670.4L319.9 670.4L320.3 670.4L320.6 670.4L321.0 670.4L321.3 670.4L321.7 670.4L322.0 670.4L322.4 670.4L322.7 670.4L323.1 670.4L323.4 670.4L323.8 670.4L324.1 670.4L324.5 670.4L324.9 670.4L325.2 670.4L325.6 670.4L325.9 670.4L326.3 670.4L326.6 670.4L327.0 670.4L327.3 670.4L327.7 670.4L328.0 670.4L328.4 670.4L328.7 670.4L329.1 670.4L329.5 670.4L329.8 670.3L330.2 670.3L330.5 670.3L330.9 670.3L331.2 670.3L331.6 670.3L331.9 670.2L332.3 670.2L332.6 670.2L333.0 670.1L333.3 670.1L333.7 670.0L334.1 669.9L334.4 669.8L334.8 669.7L335.1 669.5L335.5 669.3L335.8 669.1L336.2 668.8L336.5 668.5L336.9 668.1L337.2 667.7L337.6 667.1L337.9 666.5L338.3 665.7L338.7 664.8L339.0 663.7L339.4 662.5L339.7 661.0L340.1 659.3L340.4 657.4L340.8 655.3L341.1 652.9L341.5 650.3L341.8 647.5L342.2 644.6L342.5 641.6L342.9 638.8L343.3 636.1L343.6 633.8L344.0 632.0L344.3 630.8L344.7 630.3L345.0 630.4L345.4 631.0L345.7 631.9L346.1 633.3L346.4 634.9L346.8 636.8L347.1 638.9L347.5 641.1L347.9 643.4L348.2 645.7L348.6 648.0L348.9 650.1L349.3 652.2L349.6 654.1L350.0 655.9L350.3 657.5L350.7 659.0L351.0 660.4L351.4 661.6L351.7 662.7L352.1 663.7L352.5 664.5L352.8 665.3L353.2 665.9L353.5 666.5L353.9 667.0L354.2 667.5L354.6 667.9L354.9 668.2L355.3 668.5L355.6 668.8L356.0 669.0L356.3 669.2L356.7 669.3L357.1 669.5L357.4 669.6L357.8 669.7L358.1 669.8L358.5 669.9L358.8 670.0L359.2 670.0L359.5 670.1L359.9 670.1L360.2 670.2L360.6 670.2L360.9 670.2L361.3 670.2L361.7 670.3L362.0 670.3L362.4 670.3L362.7 670.3L363.1 670.3L363.4 670.3L363.8 670.3L364.1 670.4L364.5 670.4L364.8 670.4L365.2 670.4L365.5 670.4L365.9 670.4L366.3 670.4L366.6 670.4L367.0 670.4L367.3 670.4L367.7 670.4L368.0 670.4L368.4 670.4L368.7 670.4L369.1 670.4L369.4 670.4L369.8 670.4L370.1 670.4L370.5 670.4L370.9 670.4L371.2 670.4L371.6 670.4L371.9 670.4L372.3 670.4L372.6 670.4L373.0 670.4L373.3 670.4L373.7 670.4L374.0 670.4L374.4 670.4L374.7 670.4L375.1 670.4L375.5 670.4L375.8 670.4L376.2 670.4L376.5 670.4L376.9 670.4L377.2 670.4L377.6 670.4L377.9 670.4L378.3 670.4L378.6 670.4L379.0 670.4L379.3 670.4L379.7 670.4L380.1 670.4L380.4 670.4L380.8 670.4L381.1 670.4L381.5 670.4L381.8 670.4L382.2 670.4L382.5 670.4L382.9 670.4L383.2 670.4L383.6 670.4L383.9 670.4L384.3 670.4L384.7 670.4L385.0 670.4L385.4 670.4L385.7 670.4L386.1 670.4L386.4 670.4L386.8 670.4L387.1 670.4L387.5 670.4L387.8 670.4L388.2 670.4L388.5 670.4L388.9 670.4L389.3 670.4L389.6 670.4L390.0 670.4L390.3 670.4L390.7 670.4L391.0 670.4L391.4 670.4L391.7 670.4L392.1 670.4L392.4 670.4L392.8 670.4L393.1 670.4L393.5 670.4L393.9 670.4L394.2 670.4L394.6 670.3L394.9 670.3L395.3 670.3L395.6 670.3L396.0 670.3L396.3 670.2L396.7 670.2L397.0 670.2L397.4 670.1L397.7 670.1L398.1 670.0L398.5 669.9L398.8 669.8L399.2 669.7L399.5 669.6L399.9 669.4L400.2 669.2L400.6 668.9L400.9 668.6L401.3 668.3L401.6 667.8L402.0 667.3L402.3 666.7L402.7 666.0L403.1 665.1L403.4 664.1L403.8 662.9L404.1 661.5L404.5 659.9L404.8 658.1L405.2 656.0L405.5 653.7L405.9 651.1L406.2 648.4L406.6 645.5L406.9 642.5L407.3 639.7L407.7 636.9L408.0 634.5L408.4 632.5L408.7 631.1L409.1 630.4L409.4 630.3L409.8 630.7L410.1 631.6L410.5 632.8L410.8 634.4L411.2 636.2L411.5 638.2L411.9 640.4L412.3 642.7L412.6 645.0L413.0 647.2L413.3 649.4L413.7 651.5L414.0 653.5L414.4 655.3L414.7 657.0L415.1 658.6L415.4 660.0L415.8 661.2L416.1 662.4L416.5 663.4L416.9 664.3L417.2 665.1L417.6 665.7L417.9 666.4L418.3 666.9L418.6 667.4L419.0 667.8L419.3 668.1L419.7 668.4L420.0 668.7L420.4 668.9L420.7 669.1L421.1 669.3" fill="none" stroke="#d95319" stroke-width="2.00" stroke-linejoin="round"/>
<path d="M67.60 670.04L68.0 670.0L68.3 670.0L68.7 670.0L69.0 670.0L69.4 669.9L69.7 669.9L70.1 669.9L70.4 669.8L70.8 669.8L71.1 669.7L71.5 669.6L71.8 669.5L72.2 669.4L72.6 669.3L72.9 669.1L73.3 668.9L73.6 668.7L74.0 668.4L74.3 668.0L74.7 667.6L75.0 667.1L75.4 666.5L75.7 665.8L76.1 664.9L76.4 663.9L76.8 662.7L77.2 661.3L77.5 659.6L77.9 657.6L78.2 655.4L78.6 652.8L78.9 649.8L79.3 646.5L79.6 642.9L80.0 639.0L80.3 634.8L80.7 630.5L81.0 626.3L81.4 622.2L81.8 618.5L82.1 615.4L82.5 613.1L82.8 611.7L83.2 611.4L83.5 611.8L83.9 612.8L84.2 614.3L84.6 616.4L84.9 618.8L85.3 621.5L85.6 624.5L86.0 627.7L86.4 630.9L86.7 634.1L87.1 637.2L87.4 640.3L87.8 643.2L88.1 645.9L88.5 648.5L88.8 650.8L89.2 653.0L89.5 654.9L89.9 656.7L90.2 658.3L90.6 659.7L91.0 660.9L91.3 662.1L91.7 663.1L92.0 663.9L92.4 664.7L92.7 665.4L93.1 666.0L93.4 666.5L93.8 666.9L94.1 667.3L94.5 667.7L94.8 668.0L95.2 668.2L95.6 668.4L95.9 668.6L96.3 668.8L96.6 669.0L97.0 669.1L97.3 669.2L97.7 669.3L98.0 669.4L98.4 669.4L98.7 669.5L99.1 669.6L99.4 669.6L99.8 669.6L100.2 669.7L100.5 669.7L100.9 669.7L101.2 669.7L101.6 669.8L101.9 669.8L102.3 669.8L102.6 669.8L103.0 669.8L103.3 669.8L103.7 669.8L104.0 669.8L104.4 669.8L104.8 669.8L105.1 669.8L105.5 669.8L105.8 669.8L106.2 669.8L106.5 669.8L106.9 669.8L107.2 669.8L107.6 669.8L107.9 669.8L108.3 669.8L108.6 669.8L109.0 669.8L109.4 669.8L109.7 669.8L110.1 669.8L110.4 669.8L110.8 669.8L111.1 669.8L111.5 669.7L111.8 669.7L112.2 669.7L112.5 669.7L112.9 669.7L113.2 669.7L113.6 669.7L114.0 669.7L114.3 669.7L114.7 669.7L115.0 669.7L115.4 669.6L115.7 669.6L116.1 669.6L116.4 669.6L116.8 669.6" fill="none" stroke="#0072bd" stroke-width="2.00" stroke-linejoin="round"/>
<path d="M126.69 669.28L127.0 669.3L127.4 669.3L127.8 669.2L128.1 669.2L128.5 669.2L128.8 669.2L129.2 669.2L129.5 669.2L129.9 669.2L130.2 669.1L130.6 669.1L130.9 669.1L131.3 669.1L131.6 669.1L132.0 669.1L132.4 669.1L132.7 669.1L133.1 669.0L133.4 669.0L133.8 669.0L134.1 669.0L134.5 669.0L134.8 669.0L135.2 669.0L135.5 668.9L135.9 668.9L136.2 668.9L136.6 668.9L137.0 668.9L137.3 668.9L137.7 668.9L138.0 668.8L138.4 668.8L138.7 668.8L139.1 668.8L139.4 668.8L139.8 668.8L140.1 668.8L140.5 668.8L140.8 668.7L141.2 668.7L141.6 668.7L141.9 668.7L142.3 668.7L142.6 668.7L143.0 668.7L143.3 668.6L143.7 668.6L144.0 668.6L144.4 668.6L144.7 668.6" fill="none" stroke="#0072bd" stroke-width="2.00" stroke-linejoin="round"/>
<path d="M156.06 668.21L156.4 668.2L156.8 668.2L157.1 668.2L157.5 668.2L157.8 668.2L158.2 668.1L158.5 668.1L158.9 668.1L159.2 668.1L159.6 668.1L160.0 668.1L160.3 668.1L160.7 668.1L161.0 668.1L161.4 668.1L161.7 668.1L162.1 668.2L162.4 668.2L162.8 668.2L163.1 668.2L163.5 668.2L163.8 668.2L164.2 668.2L164.6 668.2L164.9 668.2L165.3 668.2L165.6 668.2L166.0 668.2L166.3 668.2L166.7 668.2L167.0 668.2L167.4 668.3L167.7 668.3L168.1 668.3L168.4 668.3L168.8 668.3L169.2 668.3L169.5 668.3L169.9 668.3L170.2 668.3L170.6 668.3L170.9 668.3L171.3 668.3L171.6 668.3L172.0 668.3L172.3 668.3L172.7 668.3L173.0 668.3L173.4 668.3L173.8 668.3L174.1 668.3L174.5 668.3L174.8 668.3L175.2 668.3L175.5 668.3L175.9 668.3L176.2 668.3L176.6 668.3L176.9 668.3L177.3 668.3L177.6 668.3L178.0 668.3L178.4 668.3L178.7 668.3L179.1 668.3L179.4 668.3L179.8 668.3L180.1 668.3L180.5 668.2L180.8 668.2L181.2 668.2L181.5 668.2L181.9 668.2L182.2 668.2L182.6 668.2L183.0 668.2L183.3 668.2L183.7 668.1L184.0 668.1L184.4 668.1L184.7 668.1L185.1 668.1L185.4 668.1L185.8 668.1L186.1 668.0L186.5 668.0L186.8 668.0L187.2 668.0L187.6 668.0L187.9 668.0L188.3 668.0L188.6 667.9L189.0 667.9L189.3 667.9L189.7 667.9L190.0 667.9L190.4 667.9L190.7 667.8L191.1 667.8L191.4 667.8L191.8 667.8L192.2 667.8L192.5 667.7L192.9 667.7L193.2 667.6L193.6 667.6L193.9 667.6L194.3 667.5L194.6 667.5L195.0 667.4L195.3 667.4L195.7 667.3L196.0 667.2L196.4 667.2L196.8 667.1L197.1 667.0L197.5 667.0L197.8 666.9L198.2 666.8L198.5 666.7L198.9 666.5L199.2 666.4L199.6 666.2L199.9 666.0L200.3 665.7L200.6 665.4L201.0 665.0L201.4 664.5L201.7 663.9L202.1 663.1L202.4 662.1L202.8 660.9L203.1 659.4L203.5 657.4L203.8 654.7L204.2 651.3L204.5 646.7L204.9 640.6L205.2 632.8L205.6 623.0L206.0 611.4L206.3 598.7L206.7 586.6L207.0 577.5L207.4 573.7L207.7 575.8L208.1 582.5L208.4 592.4L208.8 603.7L209.1 614.7L209.5 624.5L209.8 632.7L210.2 639.3L210.6 644.5L210.9 648.5L211.3 651.6L211.6 654.0L212.0 656.0L212.3 657.5L212.7 658.8L213.0 659.8L213.4 660.7L213.7 661.5L214.1 662.1L214.4 662.7L214.8 663.2L215.2 663.7L215.5 664.1L215.9 664.4L216.2 664.8L216.6 665.0L216.9 665.3L217.3 665.5L217.6 665.7L218.0 665.9L218.3 666.1L218.7 666.2L219.0 666.4L219.4 666.5L219.8 666.7L220.1 666.8L220.5 667.0L220.8 667.1L221.2 667.2L221.5 667.4L221.9 667.5L222.2 667.6L222.6 667.7L222.9 667.8L223.3 668.0L223.6 668.1L224.0 668.2L224.4 668.3L224.7 668.4L225.1 668.5L225.4 668.5L225.8 668.6L226.1 668.7L226.5 668.8L226.8 668.8L227.2 668.9L227.5 668.9L227.9 669.0L228.2 669.0L228.6 669.1L229.0 669.2L229.3 669.2L229.7 669.3L230.0 669.3L230.4 669.4L230.7 669.4L231.1 669.5L231.4 669.5L231.8 669.6L232.1 669.6L232.5 669.7L232.8 669.7L233.2 669.8L233.6 669.8L233.9 669.9L234.3 669.9L234.6 670.0L235.0 670.0L235.3 670.1L235.7 670.1L236.0 670.1L236.4 670.2L236.7 670.2L237.1 670.2L237.4 670.3L237.8 670.3L238.2 670.3L238.5 670.3L238.9 670.4L239.2 670.4L239.6 670.4L239.9 670.4L240.3 670.4L240.6 670.4L241.0 670.4L241.3 670.4L241.7 670.4L242.0 670.4L242.4 670.4L242.8 670.4L243.1 670.4L243.5 670.4L243.8 670.4L244.2 670.4L244.5 670.4L244.9 670.4L245.2 670.4" fill="none" stroke="#0072bd" stroke-width="2.00" stroke-linejoin="round"/>
<path d="M253.73 670.30L254.1 670.3L254.4 670.3L254.8 670.3L255.1 670.3L255.5 670.3L255.9 670.3L256.2 670.3L256.6 670.3L256.9 670.3L257.3 670.3L257.6 670.2L258.0 670.2L258.3 670.2L258.7 670.2L259.0 670.2L259.4 670.2L259.7 670.2L260.1 670.2L260.5 670.2L260.8 670.2L261.2 670.2L261.5 670.2L261.9 670.2L262.2 670.2L262.6 670.2L262.9 670.2L263.3 670.2L263.6 670.2L264.0 670.2L264.3 670.2L264.7 670.2L265.1 670.2L265.4 670.2L265.8 670.2L266.1 670.1L266.5 670.1L266.8 670.1L267.2 670.1L267.5 670.1L267.9 670.1L268.2 670.1L268.6 670.1L268.9 670.1L269.3 670.1L269.7 670.1L270.0 670.1L270.4 670.1L270.7 670.1L271.1 670.1L271.4 670.1L271.8 670.1L272.1 670.1L272.5 670.1L272.8 670.1L273.2 670.0L273.5 670.0L273.9 670.0L274.3 670.0L274.6 670.0L275.0 669.9L275.3 669.9L275.7 669.8L276.0 669.7L276.4 669.6L276.7 669.5L277.1 669.3L277.4 669.1L277.8 668.8L278.1 668.5L278.5 668.0L278.9 667.4L279.2 666.7L279.6 665.8L279.9 664.8L280.3 663.7L280.6 662.5L281.0 661.4L281.3 660.3L281.7 659.6L282.0 659.2L282.4 659.2L282.7 659.5L283.1 660.1L283.5 660.9L283.8 661.8L284.2 662.8L284.5 663.7L284.9 664.6L285.2 665.5L285.6 666.2L285.9 666.9L286.3 667.4L286.6 667.9L287.0 668.3L287.3 668.6L287.7 668.9L288.1 669.1L288.4 669.2L288.8 669.4L289.1 669.5L289.5 669.5L289.8 669.6L290.2 669.7L290.5 669.7L290.9 669.7L291.2 669.7L291.6 669.8L291.9 669.8L292.3 669.8L292.7 669.8L293.0 669.8L293.4 669.8L293.7 669.8L294.1 669.8L294.4 669.8L294.8 669.8L295.1 669.8L295.5 669.8L295.8 669.8L296.2 669.8L296.5 669.8L296.9 669.8L297.3 669.8L297.6 669.8L298.0 669.7L298.3 669.7L298.7 669.7L299.0 669.7L299.4 669.7L299.7 669.7L300.1 669.7L300.4 669.7L300.8 669.7L301.1 669.7L301.5 669.7L301.9 669.7L302.2 669.7L302.6 669.7L302.9 669.7L303.3 669.6L303.6 669.6L304.0 669.6L304.3 669.6L304.7 669.6L305.0 669.6L305.4 669.6L305.7 669.6L306.1 669.6L306.5 669.6L306.8 669.6L307.2 669.6L307.5 669.6L307.9 669.6L308.2 669.5L308.6 669.5L308.9 669.5L309.3 669.5L309.6 669.5L310.0 669.5L310.3 669.5L310.7 669.5L311.1 669.5L311.4 669.5L311.8 669.5L312.1 669.4L312.5 669.4L312.8 669.4L313.2 669.4L313.5 669.4L313.9 669.4L314.2 669.4L314.6 669.4L314.9 669.4L315.3 669.4L315.7 669.4L316.0 669.3L316.4 669.3L316.7 669.3L317.1 669.3L317.4 669.3L317.8 669.3L318.1 669.3L318.5 669.2L318.8 669.2L319.2 669.2L319.5 669.2L319.9 669.2L320.3 669.1L320.6 669.1L321.0 669.1L321.3 669.1L321.7 669.1L322.0 669.0L322.4 669.0L322.7 669.0L323.1 669.0L323.4 668.9L323.8 668.9L324.1 668.9L324.5 668.8L324.9 668.8L325.2 668.8L325.6 668.7L325.9 668.7L326.3 668.7L326.6 668.6L327.0 668.6L327.3 668.5L327.7 668.5L328.0 668.4L328.4 668.3L328.7 668.3L329.1 668.2L329.5 668.0L329.8 667.9L330.2 667.7L330.5 667.5L330.9 667.3L331.2 667.0L331.6 666.6L331.9 666.2L332.3 665.6L332.6 664.9L333.0 663.9L333.3 662.8L333.7 661.3L334.1 659.4L334.4 657.0L334.8 653.8L335.1 649.8L335.5 644.7L335.8 638.4L336.2 630.8L336.5 621.9L336.9 612.5L337.2 603.5L337.6 596.2L337.9 592.1L338.3 592.0L338.7 595.4L339.0 601.5L339.4 609.1L339.7 617.4L340.1 625.3L340.4 632.4L340.8 638.4L341.1 643.4L341.5 647.5L341.8 650.8L342.2 653.4L342.5 655.5L342.9 657.3L343.3 658.7L343.6 659.8L344.0 660.8L344.3 661.7L344.7 662.4L345.0 663.0L345.4 663.5L345.7 664.0L346.1 664.5L346.4 664.9L346.8 665.2L347.1 665.6L347.5 665.9L347.9 666.2L348.2 666.5L348.6 666.7L348.9 667.0L349.3 667.2L349.6 667.5L350.0 667.7L350.3 667.9L350.7 668.1L351.0 668.2L351.4 668.4L351.7 668.6L352.1 668.7L352.5 668.8L352.8 668.9L353.2 669.0L353.5 669.1L353.9 669.2L354.2 669.3L354.6 669.3L354.9 669.4L355.3 669.4L355.6 669.5L356.0 669.5L356.3 669.6L356.7 669.6L357.1 669.7L357.4 669.7L357.8 669.8L358.1 669.8L358.5 669.8L358.8 669.9L359.2 669.9L359.5 669.9L359.9 670.0L360.2 670.0L360.6 670.0L360.9 670.1L361.3 670.1L361.7 670.1L362.0 670.2L362.4 670.2L362.7 670.2L363.1 670.2L363.4 670.3L363.8 670.3L364.1 670.3L364.5 670.3L364.8 670.3L365.2 670.3L365.5 670.4L365.9 670.4L366.3 670.4L366.6 670.4L367.0 670.4L367.3 670.4L367.7 670.4L368.0 670.4L368.4 670.4L368.7 670.4L369.1 670.4L369.4 670.4L369.8 670.4L370.1 670.4L370.5 670.4L370.9 670.4L371.2 670.4L371.6 670.4L371.9 670.4L372.3 670.4L372.6 670.4L373.0 670.4L373.3 670.4" fill="none" stroke="#0072bd" stroke-width="2.00" stroke-linejoin="round"/>
<path d="M381.82 670.40L382.2 670.4L382.5 670.4L382.9 670.4L383.2 670.4L383.6 670.4L383.9 670.4L384.3 670.4L384.7 670.4L385.0 670.4L385.4 670.4L385.7 670.4L386.1 670.4L386.4 670.4L386.8 670.4L387.1 670.4L387.5 670.4L387.8 670.4L388.2 670.4L388.5 670.4L388.9 670.4L389.3 670.4L389.6 670.4L390.0 670.4L390.3 670.4L390.7 670.4L391.0 670.4L391.4 670.4L391.7 670.4L392.1 670.4L392.4 670.4L392.8 670.4L393.1 670.4L393.5 670.4L393.9 670.4L394.2 670.4L394.6 670.4L394.9 670.4L395.3 670.4L395.6 670.4L396.0 670.4L396.3 670.4L396.7 670.4L397.0 670.4L397.4 670.4L397.7 670.4L398.1 670.4L398.5 670.4L398.8 670.4L399.2 670.4L399.5 670.4L399.9 670.4L400.2 670.4L400.6 670.4L400.9 670.4L401.3 670.4L401.6 670.4L402.0 670.4L402.3 670.4L402.7 670.3L403.1 670.3L403.4 670.3L403.8 670.3L404.1 670.2L404.5 670.2L404.8 670.1L405.2 670.0L405.5 669.8L405.9 669.6L406.2 669.4L406.6 669.1L406.9 668.7L407.3 668.1L407.7 667.5L408.0 666.6L408.4 665.5L408.7 664.3L409.1 662.8L409.4 661.1L409.8 659.3L410.1 657.5L410.5 655.9L410.8 654.7L411.2 654.0L411.5 654.0L411.9 654.4L412.3 655.3L412.6 656.4L413.0 657.8L413.3 659.2L413.7 660.7L414.0 662.2L414.4 663.5L414.7 664.6L415.1 665.7L415.4 666.5L415.8 667.3L416.1 667.9L416.5 668.4L416.9 668.8L417.2 669.1L417.6 669.4L417.9 669.6L418.3 669.7L418.6 669.9L419.0 670.0L419.3 670.1L419.7 670.1L420.0 670.2L420.4 670.2L420.7 670.3L421.1 670.3" fill="none" stroke="#0072bd" stroke-width="2.00" stroke-linejoin="round"/>
</g>
<rect x="375.50" y="19.40" width="46.00" height="28.10" fill="#fff" stroke="#c4c4c4" stroke-width="1"/>
<line x1="377.00" y1="26.70" x2="388.20" y2="26.70" stroke="#d95319" stroke-width="2"/>
<line x1="377.00" y1="40.10" x2="388.20" y2="40.10" stroke="#0072bd" stroke-width="2"/>
<text x="389.50" y="30.90" class="lg">Data</text>
<text x="389.50" y="44.30" class="lg">SINDy</text>
<rect x="375.30" y="202.20" width="46.00" height="28.80" fill="#fff" stroke="#c4c4c4" stroke-width="1"/>
<line x1="376.80" y1="209.50" x2="388.00" y2="209.50" stroke="#d95319" stroke-width="2"/>
<line x1="376.80" y1="222.90" x2="388.00" y2="222.90" stroke="#0072bd" stroke-width="2"/>
<text x="389.30" y="213.70" class="lg">Data</text>
<text x="389.30" y="227.10" class="lg">SINDy</text>
<rect x="370.50" y="389.60" width="45.90" height="28.30" fill="#fff" stroke="#c4c4c4" stroke-width="1"/>
<line x1="372.00" y1="396.90" x2="383.20" y2="396.90" stroke="#d95319" stroke-width="2"/>
<line x1="372.00" y1="410.30" x2="383.20" y2="410.30" stroke="#0072bd" stroke-width="2"/>
<text x="384.50" y="401.10" class="lg">Data</text>
<text x="384.50" y="414.50" class="lg">SINDy</text>
<rect x="370.50" y="572.80" width="45.90" height="28.40" fill="#fff" stroke="#c4c4c4" stroke-width="1"/>
<line x1="372.00" y1="580.10" x2="383.20" y2="580.10" stroke="#d95319" stroke-width="2"/>
<line x1="372.00" y1="593.50" x2="383.20" y2="593.50" stroke="#0072bd" stroke-width="2"/>
<text x="384.50" y="584.30" class="lg">Data</text>
<text x="384.50" y="597.70" class="lg">SINDy</text>
<rect x="435.90" y="16.20" width="250.10" height="241.64" fill="#fff"/>
<text transform="translate(466.00 30.90) scale(1.030 1)" class="tb" style="font-size:13.60px" text-anchor="middle">Term</text>
<text transform="translate(540.55 30.90) scale(1.040 1)" class="tb" style="font-size:13.60px" text-anchor="middle"><tspan font-style="italic">S</tspan><tspan dx="5.71">Eq.</tspan></text>
<text transform="translate(635.60 30.90) scale(1.040 1)" class="tb" style="font-size:13.60px" text-anchor="middle"><tspan font-style="italic">I</tspan><tspan dx="5.71">Eq.</tspan></text>
<text transform="translate(466.00 49.18) scale(1.000 1)" class="tb" style="font-size:13.60px" text-anchor="middle">1</text>
<text x="502.56" y="49.18" class="tb" style="font-size:13.60px">5.4784</text>
<text x="541.27" y="49.83" class="tb" style="font-size:15.50px;fill:#444">&#215;</text>
<text x="550.75" y="49.18" class="tb" style="font-size:13.60px">10</text>
<rect x="565.25" y="40.58" width="6.00" height="0.80" fill="#222"/>
<text x="572.40" y="43.28" class="tb" style="font-size:9.50px">5</text>
<text transform="translate(635.70 49.18) scale(1.000 1)" class="tb" style="font-size:13.60px" text-anchor="middle">0</text>
<text transform="translate(466.00 67.46) scale(1.150 1)" class="tb" style="font-size:13.60px" text-anchor="middle"><tspan font-style="italic">S</tspan></text>
<text transform="translate(540.65 67.46) scale(1.000 1)" class="tb" style="font-size:13.60px" text-anchor="middle">0.9999</text>
<text transform="translate(635.70 67.46) scale(1.000 1)" class="tb" style="font-size:13.60px" text-anchor="middle">0</text>
<text transform="translate(466.00 85.74) scale(1.150 1)" class="tb" style="font-size:13.60px" text-anchor="middle"><tspan font-style="italic">I</tspan></text>
<text x="500.60" y="85.74" class="tb" style="font-size:13.60px">-1.2615</text>
<text x="543.52" y="86.39" class="tb" style="font-size:15.50px;fill:#444">&#215;</text>
<text x="553.00" y="85.74" class="tb" style="font-size:13.60px">10</text>
<rect x="567.50" y="77.14" width="6.00" height="0.80" fill="#222"/>
<text x="574.65" y="79.84" class="tb" style="font-size:9.50px">5</text>
<text transform="translate(635.70 85.74) scale(1.000 1)" class="tb" style="font-size:13.60px" text-anchor="middle">0.9</text>
<text transform="translate(466.00 104.02) scale(1.150 1)" class="tb" style="font-size:13.60px" text-anchor="middle"><tspan font-style="italic">S</tspan><tspan font-size="9.52" dy="-5.44" dx="0.54">2</tspan></text>
<text x="500.59" y="104.02" class="tb" style="font-size:13.60px">-8.6338</text>
<text x="543.52" y="104.67" class="tb" style="font-size:15.50px;fill:#444">&#215;</text>
<text x="553.01" y="104.02" class="tb" style="font-size:13.60px">10</text>
<rect x="567.50" y="95.42" width="6.00" height="0.80" fill="#222"/>
<text x="574.65" y="98.12" class="tb" style="font-size:9.50px">5</text>
<text transform="translate(635.70 104.02) scale(1.000 1)" class="tb" style="font-size:13.60px" text-anchor="middle">0</text>
<text transform="translate(466.00 122.30) scale(1.150 1)" class="tb" style="font-size:13.60px" text-anchor="middle"><tspan font-style="italic">S</tspan><tspan font-style="italic" dx="0.82">I</tspan></text>
<text transform="translate(540.65 122.30) scale(1.000 1)" class="tb" style="font-size:13.60px" text-anchor="middle">-7.9968</text>
<text transform="translate(635.70 122.30) scale(1.000 1)" class="tb" style="font-size:13.60px" text-anchor="middle">7.9985</text>
<text transform="translate(466.00 140.58) scale(1.150 1)" class="tb" style="font-size:13.60px" text-anchor="middle"><tspan font-style="italic">I</tspan><tspan font-size="9.52" dy="-5.44" dx="0.82">2</tspan></text>
<text transform="translate(540.65 140.58) scale(1.000 1)" class="tb" style="font-size:13.60px" text-anchor="middle">-0.0033</text>
<text transform="translate(635.70 140.58) scale(1.000 1)" class="tb" style="font-size:13.60px" text-anchor="middle">0.0013</text>
<text transform="translate(466.00 158.86) scale(1.150 1)" class="tb" style="font-size:13.60px" text-anchor="middle"><tspan font-style="italic">&#946;</tspan>(<tspan font-style="italic">t</tspan>)</text>
<text transform="translate(540.65 158.86) scale(1.000 1)" class="tb" style="font-size:13.60px" text-anchor="middle">0</text>
<text transform="translate(635.70 158.86) scale(1.000 1)" class="tb" style="font-size:13.60px" text-anchor="middle">0</text>
<text transform="translate(466.00 177.14) scale(1.150 1)" class="tb" style="font-size:13.60px" text-anchor="middle"><tspan font-style="italic">&#946;</tspan>(<tspan font-style="italic">t</tspan>)<tspan font-style="italic">S</tspan></text>
<text transform="translate(540.65 177.14) scale(1.000 1)" class="tb" style="font-size:13.60px" text-anchor="middle">0</text>
<text transform="translate(635.70 177.14) scale(1.000 1)" class="tb" style="font-size:13.60px" text-anchor="middle">0</text>
<text transform="translate(466.00 195.42) scale(1.150 1)" class="tb" style="font-size:13.60px" text-anchor="middle"><tspan font-style="italic">&#946;</tspan>(<tspan font-style="italic">t</tspan>)<tspan font-style="italic">I</tspan></text>
<text x="502.51" y="195.42" class="tb" style="font-size:13.60px">1.7848</text>
<text x="540.91" y="196.07" class="tb" style="font-size:15.50px;fill:#444">&#215;</text>
<text x="550.40" y="195.42" class="tb" style="font-size:13.60px">10</text>
<rect x="564.89" y="186.82" width="6.00" height="0.80" fill="#222"/>
<text x="572.04" y="189.52" class="tb" style="font-size:9.50px">5</text>
<text x="595.79" y="195.42" class="tb" style="font-size:13.60px">-7.4721</text>
<text x="638.42" y="196.07" class="tb" style="font-size:15.50px;fill:#444">&#215;</text>
<text x="647.91" y="195.42" class="tb" style="font-size:13.60px">10</text>
<rect x="662.40" y="186.82" width="6.00" height="0.80" fill="#222"/>
<text x="669.55" y="189.52" class="tb" style="font-size:9.50px">6</text>
<text transform="translate(466.00 213.70) scale(1.150 1)" class="tb" style="font-size:13.60px" text-anchor="middle"><tspan font-style="italic">&#946;</tspan>(<tspan font-style="italic">t</tspan>)<tspan font-style="italic">S</tspan><tspan font-size="9.52" dy="-5.44" dx="0.54">2</tspan></text>
<text x="502.53" y="213.70" class="tb" style="font-size:13.60px">1.1559</text>
<text x="540.89" y="214.35" class="tb" style="font-size:15.50px;fill:#444">&#215;</text>
<text x="550.38" y="213.70" class="tb" style="font-size:13.60px">10</text>
<rect x="564.87" y="205.10" width="6.00" height="0.80" fill="#222"/>
<text x="572.02" y="207.80" class="tb" style="font-size:9.50px">5</text>
<text transform="translate(635.70 213.70) scale(1.000 1)" class="tb" style="font-size:13.60px" text-anchor="middle">0</text>
<text transform="translate(466.00 231.98) scale(1.150 1)" class="tb" style="font-size:13.60px" text-anchor="middle"><tspan font-style="italic">&#946;</tspan>(<tspan font-style="italic">t</tspan>)<tspan font-style="italic">S</tspan><tspan font-style="italic" dx="0.82">I</tspan></text>
<text transform="translate(540.65 231.98) scale(1.000 1)" class="tb" style="font-size:13.60px" text-anchor="middle">-2.0036</text>
<text transform="translate(635.70 231.98) scale(1.000 1)" class="tb" style="font-size:13.60px" text-anchor="middle">2.0016</text>
<text transform="translate(466.00 250.26) scale(1.150 1)" class="tb" style="font-size:13.60px" text-anchor="middle"><tspan font-style="italic">&#946;</tspan>(<tspan font-style="italic">t</tspan>)<tspan font-style="italic">I</tspan><tspan font-size="9.52" dy="-5.44" dx="0.82">2</tspan></text>
<text transform="translate(540.65 250.26) scale(1.000 1)" class="tb" style="font-size:13.60px" text-anchor="middle">0.0028</text>
<text transform="translate(635.70 250.26) scale(1.000 1)" class="tb" style="font-size:13.60px" text-anchor="middle">-0.0011</text>
<line x1="437.80" y1="18.20" x2="684.30" y2="18.20" class="tl"/>
<line x1="437.80" y1="36.48" x2="684.30" y2="36.48" class="tl"/>
<line x1="437.80" y1="54.76" x2="684.30" y2="54.76" class="tl"/>
<line x1="437.80" y1="73.04" x2="684.30" y2="73.04" class="tl"/>
<line x1="437.80" y1="91.32" x2="684.30" y2="91.32" class="tl"/>
<line x1="437.80" y1="109.60" x2="684.30" y2="109.60" class="tl"/>
<line x1="437.80" y1="127.88" x2="684.30" y2="127.88" class="tl"/>
<line x1="437.80" y1="146.16" x2="684.30" y2="146.16" class="tl"/>
<line x1="437.80" y1="164.44" x2="684.30" y2="164.44" class="tl"/>
<line x1="437.80" y1="182.72" x2="684.30" y2="182.72" class="tl"/>
<line x1="437.80" y1="201.00" x2="684.30" y2="201.00" class="tl"/>
<line x1="437.80" y1="219.28" x2="684.30" y2="219.28" class="tl"/>
<line x1="437.80" y1="237.56" x2="684.30" y2="237.56" class="tl"/>
<line x1="437.80" y1="255.84" x2="684.30" y2="255.84" class="tl"/>
<line x1="438.50" y1="18.20" x2="438.50" y2="255.84" class="tl"/>
<line x1="493.50" y1="18.20" x2="493.50" y2="255.84" class="tl"/>
<line x1="588.60" y1="18.20" x2="588.60" y2="255.84" class="tl"/>
<line x1="683.60" y1="18.20" x2="683.60" y2="255.84" class="tl"/>
<rect x="428.00" y="389.00" width="253.40" height="262.31" fill="#fff"/>
<text transform="translate(459.10 404.50) scale(1.030 1)" class="tb" style="font-size:14.05px" text-anchor="middle">Term</text>
<text transform="translate(536.00 404.50) scale(1.040 1)" class="tb" style="font-size:14.05px" text-anchor="middle"><tspan font-style="italic">S</tspan><tspan dx="5.90">Eq.</tspan></text>
<text transform="translate(631.70 404.50) scale(1.040 1)" class="tb" style="font-size:14.05px" text-anchor="middle"><tspan font-style="italic">I</tspan><tspan dx="5.90">Eq.</tspan></text>
<text transform="translate(459.10 424.37) scale(1.000 1)" class="tb" style="font-size:14.05px" text-anchor="middle">1</text>
<text x="497.19" y="424.37" class="tb" style="font-size:14.05px">4.6829</text>
<text x="536.82" y="425.05" class="tb" style="font-size:16.01px;fill:#444">&#215;</text>
<text x="546.62" y="424.37" class="tb" style="font-size:14.05px">10</text>
<rect x="561.59" y="415.49" width="6.20" height="0.83" fill="#222"/>
<text x="568.98" y="418.27" class="tb" style="font-size:9.81px">5</text>
<text x="592.72" y="424.37" class="tb" style="font-size:14.05px">6.9399</text>
<text x="632.36" y="425.05" class="tb" style="font-size:16.01px;fill:#444">&#215;</text>
<text x="642.15" y="424.37" class="tb" style="font-size:14.05px">10</text>
<rect x="657.13" y="415.49" width="6.20" height="0.83" fill="#222"/>
<text x="664.51" y="418.27" class="tb" style="font-size:9.81px">5</text>
<text transform="translate(459.10 444.24) scale(1.150 1)" class="tb" style="font-size:14.05px" text-anchor="middle"><tspan font-style="italic">S</tspan></text>
<text transform="translate(536.10 444.24) scale(1.000 1)" class="tb" style="font-size:14.05px" text-anchor="middle">1.0014</text>
<text transform="translate(631.80 444.24) scale(1.000 1)" class="tb" style="font-size:14.05px" text-anchor="middle">-0.0103</text>
<text transform="translate(459.10 464.11) scale(1.150 1)" class="tb" style="font-size:14.05px" text-anchor="middle"><tspan font-style="italic">I</tspan></text>
<text transform="translate(536.10 464.11) scale(1.000 1)" class="tb" style="font-size:14.05px" text-anchor="middle">-0.0034</text>
<text transform="translate(631.80 464.11) scale(1.000 1)" class="tb" style="font-size:14.05px" text-anchor="middle">0.9447</text>
<text transform="translate(459.10 483.98) scale(1.150 1)" class="tb" style="font-size:14.05px" text-anchor="middle"><tspan font-style="italic">S</tspan><tspan font-size="9.83" dy="-5.62" dx="0.56">2</tspan></text>
<text transform="translate(536.10 483.98) scale(1.000 1)" class="tb" style="font-size:14.05px" text-anchor="middle">-0.05888</text>
<text transform="translate(631.80 483.98) scale(1.000 1)" class="tb" style="font-size:14.05px" text-anchor="middle">0.3845</text>
<text transform="translate(459.10 503.85) scale(1.150 1)" class="tb" style="font-size:14.05px" text-anchor="middle"><tspan font-style="italic">S</tspan><tspan font-style="italic" dx="0.84">I</tspan></text>
<text transform="translate(536.10 503.85) scale(1.000 1)" class="tb" style="font-size:14.05px" text-anchor="middle">-6.3191</text>
<text transform="translate(631.80 503.85) scale(1.000 1)" class="tb" style="font-size:14.05px" text-anchor="middle">-14.4837</text>
<text transform="translate(459.10 523.72) scale(1.150 1)" class="tb" style="font-size:14.05px" text-anchor="middle"><tspan font-style="italic">I</tspan><tspan font-size="9.83" dy="-5.62" dx="0.84">2</tspan></text>
<text transform="translate(536.10 523.72) scale(1.000 1)" class="tb" style="font-size:14.05px" text-anchor="middle">-3.2957</text>
<text transform="translate(631.80 523.72) scale(1.000 1)" class="tb" style="font-size:14.05px" text-anchor="middle">39.9876</text>
<text transform="translate(459.10 543.59) scale(1.150 1)" class="tb" style="font-size:14.05px" text-anchor="middle"><tspan font-style="italic">&#946;</tspan>(<tspan font-style="italic">t</tspan>)</text>
<text transform="translate(536.10 543.59) scale(1.000 1)" class="tb" style="font-size:14.05px" text-anchor="middle">0</text>
<text x="594.04" y="543.59" class="tb" style="font-size:14.05px">-3.542</text>
<text x="631.12" y="544.27" class="tb" style="font-size:16.01px;fill:#444">&#215;</text>
<text x="640.92" y="543.59" class="tb" style="font-size:14.05px">10</text>
<rect x="655.90" y="534.71" width="6.20" height="0.83" fill="#222"/>
<text x="663.28" y="537.49" class="tb" style="font-size:9.81px">5</text>
<text transform="translate(459.10 563.46) scale(1.150 1)" class="tb" style="font-size:14.05px" text-anchor="middle"><tspan font-style="italic">&#946;</tspan>(<tspan font-style="italic">t</tspan>)<tspan font-style="italic">S</tspan></text>
<text x="494.55" y="563.46" class="tb" style="font-size:14.05px">-2.5394</text>
<text x="539.21" y="564.14" class="tb" style="font-size:16.01px;fill:#444">&#215;</text>
<text x="549.01" y="563.46" class="tb" style="font-size:14.05px">10</text>
<rect x="563.99" y="554.58" width="6.20" height="0.83" fill="#222"/>
<text x="571.37" y="557.36" class="tb" style="font-size:9.81px">5</text>
<text transform="translate(631.80 563.46) scale(1.000 1)" class="tb" style="font-size:14.05px" text-anchor="middle">0.0069</text>
<text transform="translate(459.10 583.33) scale(1.150 1)" class="tb" style="font-size:14.05px" text-anchor="middle"><tspan font-style="italic">&#946;</tspan>(<tspan font-style="italic">t</tspan>)<tspan font-style="italic">I</tspan></text>
<text transform="translate(536.10 583.33) scale(1.000 1)" class="tb" style="font-size:14.05px" text-anchor="middle">0.0069</text>
<text transform="translate(631.80 583.33) scale(1.000 1)" class="tb" style="font-size:14.05px" text-anchor="middle">-0.0688</text>
<text transform="translate(459.10 603.20) scale(1.150 1)" class="tb" style="font-size:14.05px" text-anchor="middle"><tspan font-style="italic">&#946;</tspan>(<tspan font-style="italic">t</tspan>)<tspan font-style="italic">S</tspan><tspan font-size="9.83" dy="-5.62" dx="0.56">2</tspan></text>
<text transform="translate(536.10 603.20) scale(1.000 1)" class="tb" style="font-size:14.05px" text-anchor="middle">0.0092</text>
<text transform="translate(631.80 603.20) scale(1.000 1)" class="tb" style="font-size:14.05px" text-anchor="middle">-0.3059</text>
<text transform="translate(459.10 623.07) scale(1.150 1)" class="tb" style="font-size:14.05px" text-anchor="middle"><tspan font-style="italic">&#946;</tspan>(<tspan font-style="italic">t</tspan>)<tspan font-style="italic">S</tspan><tspan font-style="italic" dx="0.84">I</tspan></text>
<text transform="translate(536.10 623.07) scale(1.000 1)" class="tb" style="font-size:14.05px" text-anchor="middle">-3.9521</text>
<text transform="translate(631.80 623.07) scale(1.000 1)" class="tb" style="font-size:14.05px" text-anchor="middle">26.4513</text>
<text transform="translate(459.10 642.94) scale(1.150 1)" class="tb" style="font-size:14.05px" text-anchor="middle"><tspan font-style="italic">&#946;</tspan>(<tspan font-style="italic">t</tspan>)<tspan font-style="italic">I</tspan><tspan font-size="9.83" dy="-5.62" dx="0.84">2</tspan></text>
<text transform="translate(536.10 642.94) scale(1.000 1)" class="tb" style="font-size:14.05px" text-anchor="middle">3.0368</text>
<text transform="translate(631.80 642.94) scale(1.000 1)" class="tb" style="font-size:14.05px" text-anchor="middle">-38.9909</text>
<line x1="429.90" y1="391.00" x2="679.70" y2="391.00" class="tl"/>
<line x1="429.90" y1="410.87" x2="679.70" y2="410.87" class="tl"/>
<line x1="429.90" y1="430.74" x2="679.70" y2="430.74" class="tl"/>
<line x1="429.90" y1="450.61" x2="679.70" y2="450.61" class="tl"/>
<line x1="429.90" y1="470.48" x2="679.70" y2="470.48" class="tl"/>
<line x1="429.90" y1="490.35" x2="679.70" y2="490.35" class="tl"/>
<line x1="429.90" y1="510.22" x2="679.70" y2="510.22" class="tl"/>
<line x1="429.90" y1="530.09" x2="679.70" y2="530.09" class="tl"/>
<line x1="429.90" y1="549.96" x2="679.70" y2="549.96" class="tl"/>
<line x1="429.90" y1="569.83" x2="679.70" y2="569.83" class="tl"/>
<line x1="429.90" y1="589.70" x2="679.70" y2="589.70" class="tl"/>
<line x1="429.90" y1="609.57" x2="679.70" y2="609.57" class="tl"/>
<line x1="429.90" y1="629.44" x2="679.70" y2="629.44" class="tl"/>
<line x1="429.90" y1="649.31" x2="679.70" y2="649.31" class="tl"/>
<line x1="430.60" y1="391.00" x2="430.60" y2="649.31" class="tl"/>
<line x1="487.60" y1="391.00" x2="487.60" y2="649.31" class="tl"/>
<line x1="585.40" y1="391.00" x2="585.40" y2="649.31" class="tl"/>
<line x1="679.00" y1="391.00" x2="679.00" y2="649.31" class="tl"/>
<text x="-2.8" y="26.9" class="pl">a</text><text x="11.4" y="26.4" class="pl">)</text>
<text x="-0.8" y="397.4" class="pl">b</text><text x="11.4" y="397.1" class="pl">)</text>
</svg>
</body></html>
